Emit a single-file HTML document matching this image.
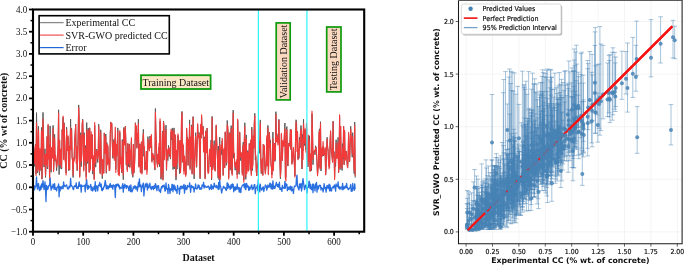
<!DOCTYPE html>
<html><head><meta charset="utf-8"><style>
html,body{margin:0;padding:0;background:#fff;width:685px;height:265px;overflow:hidden}
svg{display:block}
.ser{font-family:"Liberation Serif","Times New Roman",serif;fill:#111}
.dv{font-family:"DejaVu Sans","Liberation Sans",sans-serif;fill:#111}
.dvt{stroke:#111;stroke-width:0.2}
</style></head><body>
<svg width="685" height="265" viewBox="0 0 685 265"><path d="M33.5,148.7 L34.0,161.4 L34.5,166.4 L35.0,150.8 L35.5,144.2 L36.0,174.0 L36.5,112.6 L37.0,137.4 L37.5,172.8 L38.0,155.6 L38.5,126.2 L39.0,169.6 L39.5,175.2 L40.0,151.5 L40.5,158.3 L41.0,170.6 L41.5,127.5 L42.0,179.1 L42.5,137.3 L43.0,112.4 L43.5,135.9 L44.0,167.1 L44.5,156.0 L45.0,148.8 L45.5,177.4 L46.0,168.2 L46.5,162.5 L47.1,136.4 L47.6,169.0 L48.1,125.3 L48.6,157.9 L49.1,144.6 L49.6,179.0 L50.1,125.9 L50.6,149.8 L51.1,172.3 L51.6,147.7 L52.1,148.2 L52.6,157.6 L53.1,125.4 L53.6,170.0 L54.1,157.7 L54.6,134.3 L55.1,161.1 L55.6,157.5 L56.1,160.9 L56.6,170.6 L57.1,164.1 L57.6,157.5 L58.1,145.6 L58.6,109.8 L59.1,174.6 L59.6,139.9 L60.1,168.7 L60.6,150.7 L61.1,150.4 L61.6,169.1 L62.1,129.4 L62.6,133.7 L63.1,117.3 L63.6,154.1 L64.1,122.7 L64.6,138.0 L65.1,159.3 L65.6,162.5 L66.1,173.1 L66.6,127.2 L67.1,150.5 L67.6,147.5 L68.1,136.7 L68.6,170.6 L69.1,145.9 L69.6,170.1 L70.1,143.7 L70.6,119.2 L71.1,148.0 L71.6,128.4 L72.1,157.0 L72.6,160.6 L73.1,177.5 L73.6,160.3 L74.1,160.4 L74.7,140.0 L75.2,132.5 L75.7,124.1 L76.2,158.8 L76.7,147.6 L77.2,170.8 L77.7,157.1 L78.2,132.7 L78.7,104.9 L79.2,119.3 L79.7,176.4 L80.2,159.2 L80.7,132.7 L81.2,166.6 L81.7,152.9 L82.2,123.8 L82.7,119.2 L83.2,138.2 L83.7,169.9 L84.2,132.7 L84.7,152.2 L85.2,165.6 L85.7,145.5 L86.2,176.8 L86.7,122.6 L87.2,149.6 L87.7,163.5 L88.2,128.1 L88.7,137.1 L89.2,171.8 L89.7,127.8 L90.2,168.9 L90.7,154.3 L91.2,134.7 L91.7,157.9 L92.2,134.8 L92.7,174.1 L93.2,165.3 L93.7,156.4 L94.2,178.8 L94.7,125.2 L95.2,152.1 L95.7,167.2 L96.2,154.3 L96.7,149.1 L97.2,152.0 L97.7,162.5 L98.2,153.9 L98.7,124.2 L99.2,143.9 L99.7,163.0 L100.2,173.2 L100.7,129.8 L101.2,154.2 L101.7,162.4 L102.3,178.6 L102.8,160.6 L103.3,171.8 L103.8,172.7 L104.3,132.9 L104.8,147.8 L105.3,146.6 L105.8,134.0 L106.3,173.3 L106.8,142.4 L107.3,163.7 L107.8,146.7 L108.3,163.4 L108.8,158.0 L109.3,170.8 L109.8,167.4 L110.3,131.9 L110.8,122.2 L111.3,124.6 L111.8,123.6 L112.3,141.7 L112.8,158.3 L113.3,147.5 L113.8,139.5 L114.3,158.4 L114.8,147.5 L115.3,137.5 L115.8,169.6 L116.3,144.4 L116.8,152.9 L117.3,143.0 L117.8,127.9 L118.3,171.9 L118.8,164.6 L119.3,173.7 L119.8,132.3 L120.3,164.0 L120.8,157.4 L121.3,168.2 L121.8,172.8 L122.3,139.5 L122.8,149.9 L123.3,179.7 L123.8,127.5 L124.3,142.5 L124.8,141.8 L125.3,126.2 L125.8,139.4 L126.3,165.3 L126.8,151.9 L127.3,170.0 L127.8,143.7 L128.3,159.5 L128.8,167.0 L129.3,143.9 L129.9,166.7 L130.4,154.6 L130.9,155.6 L131.4,141.2 L131.9,173.9 L132.4,174.7 L132.9,177.3 L133.4,144.2 L133.9,173.2 L134.4,168.4 L134.9,154.3 L135.4,122.7 L135.9,140.1 L136.4,126.8 L136.9,147.7 L137.4,137.4 L137.9,140.4 L138.4,119.2 L138.9,166.5 L139.4,152.1 L139.9,143.7 L140.4,171.8 L140.9,156.5 L141.4,145.9 L141.9,173.3 L142.4,163.0 L142.9,137.4 L143.4,129.4 L143.9,156.3 L144.4,149.0 L144.9,169.8 L145.4,162.6 L145.9,167.8 L146.4,151.1 L146.9,170.2 L147.4,169.8 L147.9,136.6 L148.4,145.7 L148.9,145.8 L149.4,150.1 L149.9,136.0 L150.4,138.1 L150.9,148.1 L151.4,136.7 L151.9,161.3 L152.4,154.4 L152.9,153.5 L153.4,159.8 L153.9,156.5 L154.4,163.6 L154.9,170.1 L155.4,108.5 L155.9,130.7 L156.4,147.3 L156.9,162.6 L157.5,165.5 L158.0,154.1 L158.5,162.1 L159.0,147.0 L159.5,166.7 L160.0,121.4 L160.5,129.5 L161.0,179.3 L161.5,167.4 L162.0,172.9 L162.5,131.1 L163.0,179.6 L163.5,121.0 L164.0,125.7 L164.5,159.6 L165.0,144.9 L165.5,139.2 L166.0,125.2 L166.5,170.5 L167.0,151.1 L167.5,159.8 L168.0,160.5 L168.5,145.4 L169.0,150.9 L169.5,156.3 L170.0,153.8 L170.5,159.1 L171.0,132.1 L171.5,140.0 L172.0,128.4 L172.5,128.3 L173.0,169.5 L173.5,165.5 L174.0,127.9 L174.5,168.8 L175.0,164.8 L175.5,137.2 L176.0,180.1 L176.5,152.5 L177.0,169.2 L177.5,151.7 L178.0,135.4 L178.5,143.7 L179.0,150.3 L179.5,173.6 L180.0,140.5 L180.5,171.7 L181.0,159.9 L181.5,120.3 L182.0,111.4 L182.5,162.2 L183.0,145.1 L183.5,149.2 L184.0,171.2 L184.5,161.9 L185.1,163.0 L185.6,174.6 L186.1,174.9 L186.6,128.6 L187.1,146.1 L187.6,137.2 L188.1,164.9 L188.6,139.4 L189.1,149.8 L189.6,119.9 L190.1,168.6 L190.6,142.2 L191.1,158.6 L191.6,124.9 L192.1,173.6 L192.6,155.3 L193.1,116.6 L193.6,153.3 L194.1,178.9 L194.6,166.0 L195.1,149.5 L195.6,132.7 L196.1,145.3 L196.6,167.3 L197.1,148.1 L197.6,124.4 L198.1,135.4 L198.6,135.3 L199.1,132.5 L199.6,152.4 L200.1,178.8 L200.6,126.4 L201.1,138.2 L201.6,116.8 L202.1,129.5 L202.6,132.8 L203.1,126.2 L203.6,147.1 L204.1,150.0 L204.6,136.8 L205.1,178.4 L205.6,130.8 L206.1,139.9 L206.6,152.8 L207.1,128.1 L207.6,167.2 L208.1,172.1 L208.6,172.2 L209.1,157.8 L209.6,151.5 L210.1,151.6 L210.6,166.7 L211.1,140.0 L211.6,180.0 L212.1,116.4 L212.7,168.7 L213.2,165.7 L213.7,149.1 L214.2,140.6 L214.7,167.2 L215.2,170.7 L215.7,147.5 L216.2,125.5 L216.7,140.7 L217.2,150.7 L217.7,165.2 L218.2,178.3 L218.7,146.0 L219.2,180.1 L219.7,137.1 L220.2,177.7 L220.7,153.5 L221.2,148.1 L221.7,154.6 L222.2,140.8 L222.7,151.7 L223.2,175.2 L223.7,151.2 L224.2,149.3 L224.7,167.7 L225.2,132.3 L225.7,146.1 L226.2,165.4 L226.7,163.9 L227.2,120.5 L227.7,127.5 L228.2,133.8 L228.7,177.6 L229.2,156.4 L229.7,132.6 L230.2,170.2 L230.7,138.8 L231.2,125.6 L231.7,170.4 L232.2,174.2 L232.7,136.3 L233.2,110.1 L233.7,158.2 L234.2,153.3 L234.7,162.8 L235.2,170.2 L235.7,162.1 L236.2,169.7 L236.7,161.9 L237.2,174.9 L237.7,120.4 L238.2,152.2 L238.7,172.4 L239.2,174.3 L239.7,132.6 L240.3,160.6 L240.8,157.5 L241.3,153.1 L241.8,156.8 L242.3,173.4 L242.8,147.0 L243.3,142.1 L243.8,180.1 L244.3,141.4 L244.8,122.8 L245.3,167.7 L245.8,179.3 L246.3,134.9 L246.8,170.2 L247.3,161.4 L247.8,150.5 L248.3,170.2 L248.8,162.7 L249.3,143.5 L249.8,152.7 L250.3,170.3 L250.8,140.6 L251.3,173.9 L251.8,127.1 L252.3,170.6 L252.8,164.5 L253.3,137.4 L253.8,147.8 L254.3,122.0 L254.8,113.3 L255.3,159.8 L255.8,156.5 L256.3,171.4 L256.8,175.8 L257.3,163.7 L257.8,168.0 L258.3,151.9 L258.8,147.7 L259.3,141.3 L259.8,153.4 L260.3,119.9 L260.8,160.8 L261.3,173.7 L261.8,167.6 L262.3,160.0 L262.8,175.2 L263.3,144.3 L263.8,153.9 L264.3,146.7 L264.8,167.4 L265.3,171.7 L265.8,167.5 L266.3,158.4 L266.8,138.6 L267.3,166.3 L267.9,125.4 L268.4,174.1 L268.9,153.7 L269.4,132.3 L269.9,143.1 L270.4,140.2 L270.9,163.9 L271.4,167.7 L271.9,174.8 L272.4,167.7 L272.9,132.1 L273.4,169.9 L273.9,145.1 L274.4,143.2 L274.9,161.4 L275.4,157.7 L275.9,111.7 L276.4,136.9 L276.9,133.6 L277.4,137.4 L277.9,142.1 L278.4,140.0 L278.9,119.3 L279.4,143.0 L279.9,163.2 L280.4,178.8 L280.9,169.2 L281.4,134.4 L281.9,152.1 L282.4,158.6 L282.9,141.4 L283.4,145.1 L283.9,146.3 L284.4,135.0 L284.9,123.0 L285.4,177.7 L285.9,177.3 L286.4,129.3 L286.9,126.6 L287.4,160.1 L287.9,166.1 L288.4,150.1 L288.9,143.0 L289.4,146.0 L289.9,145.3 L290.4,129.2 L290.9,149.6 L291.4,133.5 L291.9,163.6 L292.4,161.9 L292.9,156.4 L293.4,153.8 L293.9,157.6 L294.4,164.2 L294.9,176.1 L295.5,141.2 L296.0,119.8 L296.5,121.3 L297.0,139.3 L297.5,131.5 L298.0,159.3 L298.5,152.0 L299.0,158.3 L299.5,137.3 L300.0,148.1 L300.5,130.7 L301.0,125.5 L301.5,135.1 L302.0,169.0 L302.5,134.4 L303.0,150.9 L303.5,119.3 L304.0,138.0 L304.5,145.5 L305.0,129.8 L305.5,139.8 L306.0,150.1 L306.5,123.2 L307.0,155.2 L307.5,160.9 L308.0,166.7 L308.5,135.0 L309.0,155.7 L309.5,135.8 L310.0,171.4 L310.5,168.1 L311.0,154.8 L311.5,170.6 L312.0,113.7 L312.5,129.2 L313.0,164.7 L313.5,151.6 L314.0,151.0 L314.5,150.3 L315.0,154.8 L315.5,145.8 L316.0,147.4 L316.5,149.4 L317.0,164.9 L317.5,174.7 L318.0,168.4 L318.5,164.1 L319.0,132.5 L319.5,128.8 L320.0,167.5 L320.5,121.7 L321.0,171.0 L321.5,152.7 L322.0,149.0 L322.5,156.3 L323.1,146.3 L323.6,155.9 L324.1,151.2 L324.6,151.6 L325.1,148.7 L325.6,175.0 L326.1,170.2 L326.6,148.3 L327.1,137.3 L327.6,146.3 L328.1,151.3 L328.6,162.5 L329.1,165.7 L329.6,167.6 L330.1,139.8 L330.6,132.9 L331.1,151.9 L331.6,153.0 L332.1,157.1 L332.6,162.1 L333.1,121.3 L333.6,157.8 L334.1,151.6 L334.6,177.2 L335.1,159.0 L335.6,166.4 L336.1,139.8 L336.6,156.2 L337.1,157.2 L337.6,150.5 L338.1,137.4 L338.6,172.7 L339.1,157.6 L339.6,116.8 L340.1,169.6 L340.6,126.2 L341.1,154.1 L341.6,162.8 L342.1,170.5 L342.6,143.7 L343.1,159.2 L343.6,126.0 L344.1,164.6 L344.6,131.7 L345.1,159.5 L345.6,156.9 L346.1,151.8 L346.6,151.0 L347.1,163.7 L347.6,168.0 L348.1,160.4 L348.6,134.7 L349.1,151.8 L349.6,161.9 L350.1,147.0 L350.7,126.3 L351.2,140.3 L351.7,143.6 L352.2,157.2 L352.7,132.7 L353.2,157.6 L353.7,157.6 L354.2,173.7 L354.7,122.1 L355.2,177.7" fill="none" stroke="#5a5a5a" stroke-width="1.0" stroke-linejoin="round"/>
<path d="M33.5,146.8 L34.0,162.9 L34.5,163.7 L35.0,150.1 L35.5,145.2 L36.0,175.5 L36.5,122.9 L37.0,138.2 L37.5,170.9 L38.0,158.9 L38.5,129.9 L39.0,168.7 L39.5,171.7 L40.0,148.6 L40.5,159.3 L41.0,168.5 L41.5,130.7 L42.0,178.7 L42.5,138.8 L43.0,119.1 L43.5,137.9 L44.0,164.8 L44.5,155.4 L45.0,154.3 L45.5,175.3 L46.0,154.0 L46.5,164.4 L47.1,137.0 L47.6,166.7 L48.1,124.2 L48.6,158.9 L49.1,146.8 L49.6,180.6 L50.1,135.1 L50.6,152.2 L51.1,169.4 L51.6,148.4 L52.1,147.3 L52.6,157.9 L53.1,128.4 L53.6,171.5 L54.1,155.6 L54.6,137.9 L55.1,159.9 L55.6,155.3 L56.1,160.3 L56.6,167.0 L57.1,163.7 L57.6,158.0 L58.1,145.7 L58.6,113.2 L59.1,165.0 L59.6,140.8 L60.1,165.2 L60.6,151.1 L61.1,149.0 L61.6,167.6 L62.1,130.6 L62.6,134.3 L63.1,116.0 L63.6,159.6 L64.1,123.8 L64.6,139.8 L65.1,159.9 L65.6,164.0 L66.1,174.9 L66.6,129.6 L67.1,150.7 L67.6,145.8 L68.1,135.8 L68.6,168.9 L69.1,146.9 L69.6,169.8 L70.1,144.3 L70.6,127.9 L71.1,149.6 L71.6,130.2 L72.1,157.5 L72.6,161.0 L73.1,175.3 L73.6,158.1 L74.1,161.2 L74.7,141.7 L75.2,133.2 L75.7,124.8 L76.2,163.2 L76.7,146.5 L77.2,169.6 L77.7,157.6 L78.2,131.5 L78.7,107.7 L79.2,124.7 L79.7,177.2 L80.2,160.4 L80.7,135.1 L81.2,161.6 L81.7,155.0 L82.2,125.1 L82.7,120.2 L83.2,139.3 L83.7,171.0 L84.2,134.6 L84.7,153.8 L85.2,161.0 L85.7,148.4 L86.2,180.5 L86.7,130.0 L87.2,149.3 L87.7,161.5 L88.2,130.0 L88.7,136.1 L89.2,172.4 L89.7,128.2 L90.2,170.2 L90.7,157.1 L91.2,131.7 L91.7,158.4 L92.2,134.5 L92.7,170.4 L93.2,163.6 L93.7,155.9 L94.2,179.7 L94.7,122.5 L95.2,157.7 L95.7,163.1 L96.2,155.6 L96.7,150.5 L97.2,152.1 L97.7,159.0 L98.2,155.1 L98.7,126.5 L99.2,145.9 L99.7,167.8 L100.2,173.8 L100.7,131.9 L101.2,157.5 L101.7,159.4 L102.3,175.2 L102.8,159.6 L103.3,169.7 L103.8,173.3 L104.3,133.4 L104.8,151.7 L105.3,153.3 L105.8,136.6 L106.3,171.7 L106.8,144.3 L107.3,165.0 L107.8,145.0 L108.3,161.9 L108.8,159.3 L109.3,170.5 L109.8,170.0 L110.3,135.5 L110.8,122.2 L111.3,126.4 L111.8,123.6 L112.3,143.6 L112.8,156.4 L113.3,149.8 L113.8,141.1 L114.3,160.3 L114.8,147.7 L115.3,127.2 L115.8,172.5 L116.3,144.6 L116.8,155.8 L117.3,144.5 L117.8,131.4 L118.3,174.7 L118.8,164.9 L119.3,175.6 L119.8,130.6 L120.3,163.9 L120.8,156.8 L121.3,167.3 L121.8,172.0 L122.3,141.1 L122.8,153.5 L123.3,174.8 L123.8,129.1 L124.3,141.7 L124.8,144.8 L125.3,126.8 L125.8,141.2 L126.3,164.1 L126.8,153.4 L127.3,171.4 L127.8,143.5 L128.3,159.4 L128.8,163.6 L129.3,145.1 L129.9,167.8 L130.4,150.2 L130.9,157.9 L131.4,137.8 L131.9,169.3 L132.4,171.0 L132.9,175.2 L133.4,144.8 L133.9,172.2 L134.4,167.6 L134.9,155.8 L135.4,123.5 L135.9,138.4 L136.4,125.8 L136.9,148.2 L137.4,133.6 L137.9,140.8 L138.4,123.9 L138.9,166.9 L139.4,160.5 L139.9,144.3 L140.4,172.7 L140.9,158.9 L141.4,141.7 L141.9,174.0 L142.4,163.2 L142.9,140.5 L143.4,133.6 L143.9,147.6 L144.4,146.5 L144.9,169.9 L145.4,165.8 L145.9,168.6 L146.4,151.8 L146.9,174.3 L147.4,167.1 L147.9,139.4 L148.4,145.1 L148.9,146.4 L149.4,150.6 L149.9,140.0 L150.4,137.1 L150.9,147.5 L151.4,134.5 L151.9,162.1 L152.4,153.6 L152.9,154.4 L153.4,157.5 L153.9,155.7 L154.4,165.3 L154.9,169.0 L155.4,112.1 L155.9,133.1 L156.4,147.0 L156.9,159.2 L157.5,167.0 L158.0,154.6 L158.5,163.8 L159.0,143.4 L159.5,162.9 L160.0,118.9 L160.5,124.2 L161.0,177.4 L161.5,168.0 L162.0,172.0 L162.5,132.7 L163.0,179.9 L163.5,122.2 L164.0,128.0 L164.5,159.7 L165.0,141.1 L165.5,136.4 L166.0,129.5 L166.5,169.0 L167.0,149.3 L167.5,158.4 L168.0,154.1 L168.5,148.2 L169.0,150.6 L169.5,154.3 L170.0,147.7 L170.5,157.8 L171.0,129.4 L171.5,137.1 L172.0,131.4 L172.5,131.1 L173.0,165.0 L173.5,166.7 L174.0,130.2 L174.5,166.6 L175.0,165.8 L175.5,134.9 L176.0,176.5 L176.5,150.2 L177.0,163.1 L177.5,153.7 L178.0,133.8 L178.5,142.0 L179.0,148.7 L179.5,166.8 L180.0,140.6 L180.5,172.6 L181.0,158.3 L181.5,119.5 L182.0,112.7 L182.5,161.9 L183.0,143.7 L183.5,150.1 L184.0,174.1 L184.5,156.0 L185.1,162.7 L185.6,176.3 L186.1,172.6 L186.6,128.3 L187.1,144.3 L187.6,138.9 L188.1,165.5 L188.6,139.9 L189.1,150.2 L189.6,124.3 L190.1,169.7 L190.6,137.1 L191.1,158.4 L191.6,126.6 L192.1,174.1 L192.6,154.8 L193.1,117.3 L193.6,152.5 L194.1,174.2 L194.6,165.4 L195.1,148.6 L195.6,136.2 L196.1,143.8 L196.6,165.8 L197.1,146.5 L197.6,123.8 L198.1,137.7 L198.6,135.3 L199.1,134.5 L199.6,150.4 L200.1,177.8 L200.6,124.5 L201.1,138.0 L201.6,114.9 L202.1,131.9 L202.6,134.2 L203.1,127.2 L203.6,152.0 L204.1,149.1 L204.6,138.7 L205.1,178.7 L205.6,131.8 L206.1,140.1 L206.6,152.7 L207.1,128.5 L207.6,167.4 L208.1,173.4 L208.6,173.0 L209.1,156.9 L209.6,149.0 L210.1,151.7 L210.6,165.8 L211.1,143.0 L211.6,177.9 L212.1,117.9 L212.7,169.5 L213.2,164.2 L213.7,149.1 L214.2,144.7 L214.7,169.5 L215.2,171.1 L215.7,148.4 L216.2,125.0 L216.7,142.5 L217.2,151.0 L217.7,165.1 L218.2,176.1 L218.7,150.8 L219.2,178.5 L219.7,144.2 L220.2,179.4 L220.7,154.3 L221.2,145.1 L221.7,148.9 L222.2,138.4 L222.7,150.3 L223.2,175.3 L223.7,152.1 L224.2,148.3 L224.7,167.6 L225.2,131.9 L225.7,143.7 L226.2,162.2 L226.7,162.7 L227.2,125.0 L227.7,126.2 L228.2,137.3 L228.7,179.1 L229.2,155.9 L229.7,133.6 L230.2,168.1 L230.7,139.5 L231.2,128.4 L231.7,169.6 L232.2,175.2 L232.7,139.6 L233.2,113.0 L233.7,153.7 L234.2,153.2 L234.7,163.0 L235.2,167.2 L235.7,162.5 L236.2,168.4 L236.7,159.8 L237.2,178.2 L237.7,119.1 L238.2,150.5 L238.7,172.0 L239.2,169.4 L239.7,132.0 L240.3,157.3 L240.8,152.2 L241.3,152.9 L241.8,157.3 L242.3,175.1 L242.8,148.9 L243.3,145.1 L243.8,182.1 L244.3,141.1 L244.8,126.6 L245.3,166.1 L245.8,176.8 L246.3,138.9 L246.8,173.4 L247.3,161.4 L247.8,152.2 L248.3,171.2 L248.8,159.6 L249.3,143.8 L249.8,150.4 L250.3,169.8 L250.8,139.9 L251.3,175.6 L251.8,129.5 L252.3,168.1 L252.8,163.9 L253.3,135.8 L253.8,148.2 L254.3,124.7 L254.8,115.9 L255.3,153.4 L255.8,155.7 L256.3,170.6 L256.8,175.4 L257.3,165.5 L257.8,164.7 L258.3,159.8 L258.8,146.7 L259.3,142.3 L259.8,148.7 L260.3,123.0 L260.8,159.3 L261.3,172.3 L261.8,164.6 L262.3,158.5 L262.8,175.3 L263.3,144.6 L263.8,149.7 L264.3,145.3 L264.8,166.7 L265.3,173.9 L265.8,168.9 L266.3,159.7 L266.8,135.8 L267.3,165.5 L267.9,127.8 L268.4,174.6 L268.9,153.6 L269.4,132.9 L269.9,147.2 L270.4,143.8 L270.9,163.2 L271.4,166.2 L271.9,177.8 L272.4,165.9 L272.9,138.5 L273.4,170.6 L273.9,143.7 L274.4,144.3 L274.9,160.4 L275.4,158.5 L275.9,114.5 L276.4,141.7 L276.9,135.8 L277.4,138.2 L277.9,144.9 L278.4,140.2 L278.9,120.3 L279.4,148.0 L279.9,161.1 L280.4,176.6 L280.9,168.5 L281.4,133.3 L281.9,148.0 L282.4,160.5 L282.9,140.5 L283.4,144.5 L283.9,146.0 L284.4,133.9 L284.9,128.8 L285.4,176.9 L285.9,180.9 L286.4,132.0 L286.9,129.5 L287.4,156.8 L287.9,165.4 L288.4,147.9 L288.9,143.3 L289.4,146.0 L289.9,142.8 L290.4,130.3 L290.9,148.6 L291.4,129.9 L291.9,164.3 L292.4,158.7 L292.9,153.9 L293.4,147.6 L293.9,156.0 L294.4,165.3 L294.9,177.0 L295.5,142.3 L296.0,121.9 L296.5,130.7 L297.0,151.4 L297.5,131.9 L298.0,159.7 L298.5,150.2 L299.0,155.6 L299.5,140.7 L300.0,147.6 L300.5,133.0 L301.0,129.1 L301.5,131.4 L302.0,168.1 L302.5,139.2 L303.0,159.5 L303.5,123.9 L304.0,139.0 L304.5,143.1 L305.0,128.8 L305.5,141.9 L306.0,152.2 L306.5,123.3 L307.0,149.6 L307.5,161.1 L308.0,166.4 L308.5,135.2 L309.0,161.7 L309.5,141.1 L310.0,170.3 L310.5,171.0 L311.0,153.7 L311.5,168.1 L312.0,111.2 L312.5,132.4 L313.0,159.3 L313.5,154.6 L314.0,151.8 L314.5,150.9 L315.0,151.1 L315.5,149.2 L316.0,147.0 L316.5,154.3 L317.0,160.0 L317.5,175.6 L318.0,169.7 L318.5,162.4 L319.0,133.7 L319.5,130.8 L320.0,168.8 L320.5,123.5 L321.0,168.3 L321.5,152.3 L322.0,148.1 L322.5,155.3 L323.1,141.6 L323.6,154.1 L324.1,154.8 L324.6,152.3 L325.1,147.3 L325.6,174.7 L326.1,165.3 L326.6,148.1 L327.1,139.2 L327.6,147.5 L328.1,149.9 L328.6,163.9 L329.1,168.9 L329.6,164.0 L330.1,142.0 L330.6,130.8 L331.1,148.1 L331.6,149.6 L332.1,157.0 L332.6,162.1 L333.1,121.7 L333.6,157.0 L334.1,153.3 L334.6,179.4 L335.1,158.3 L335.6,162.5 L336.1,143.1 L336.6,157.3 L337.1,158.4 L337.6,151.1 L338.1,142.9 L338.6,171.9 L339.1,158.5 L339.6,114.9 L340.1,167.7 L340.6,126.3 L341.1,154.1 L341.6,163.1 L342.1,168.2 L342.6,147.7 L343.1,156.8 L343.6,126.5 L344.1,164.5 L344.6,130.3 L345.1,160.4 L345.6,158.0 L346.1,151.3 L346.6,155.0 L347.1,163.4 L347.6,167.8 L348.1,158.2 L348.6,132.4 L349.1,150.6 L349.6,160.9 L350.1,146.4 L350.7,129.2 L351.2,136.2 L351.7,141.9 L352.2,153.4 L352.7,136.5 L353.2,156.3 L353.7,156.4 L354.2,170.5 L354.7,125.5 L355.2,175.7" fill="none" stroke="#f23a3a" stroke-width="1.15" stroke-linejoin="round"/>
<path d="M33.5,189.2 L34.0,185.7 L34.5,189.9 L35.0,187.9 L35.5,186.2 L36.0,185.7 L36.5,176.9 L37.0,186.5 L37.5,189.2 L38.0,184.0 L38.5,183.6 L39.0,188.1 L39.5,190.7 L40.0,190.1 L40.5,186.2 L41.0,189.4 L41.5,184.0 L42.0,187.7 L42.5,185.7 L43.0,180.6 L43.5,185.2 L44.0,189.5 L44.5,187.9 L45.0,181.8 L45.5,189.4 L46.0,201.5 L46.5,185.4 L47.1,186.6 L47.6,189.5 L48.1,188.4 L48.6,186.3 L49.1,185.1 L49.6,185.6 L50.1,178.1 L50.6,184.9 L51.1,190.1 L51.6,186.5 L52.1,188.2 L52.6,187.0 L53.1,184.2 L53.6,185.8 L54.1,189.3 L54.6,183.6 L55.1,188.5 L55.6,189.4 L56.1,187.8 L56.6,190.9 L57.1,187.6 L57.6,186.7 L58.1,187.1 L58.6,183.9 L59.1,196.8 L59.6,186.4 L60.1,190.8 L60.6,186.9 L61.1,188.7 L61.6,188.8 L62.1,186.1 L62.6,186.7 L63.1,188.6 L63.6,181.8 L64.1,186.2 L64.6,185.4 L65.1,186.7 L65.6,185.8 L66.1,185.5 L66.6,184.8 L67.1,187.0 L67.6,188.9 L68.1,188.2 L68.6,188.9 L69.1,186.2 L69.6,187.5 L70.1,186.6 L70.6,178.5 L71.1,185.6 L71.6,185.5 L72.1,186.7 L72.6,186.9 L73.1,189.4 L73.6,189.5 L74.1,186.5 L74.7,185.6 L75.2,186.5 L75.7,186.5 L76.2,182.8 L76.7,188.4 L77.2,188.4 L77.7,186.8 L78.2,188.4 L78.7,184.5 L79.2,181.8 L79.7,186.4 L80.2,186.2 L80.7,184.9 L81.2,192.2 L81.7,185.2 L82.2,186.0 L82.7,186.3 L83.2,186.2 L83.7,186.1 L84.2,185.4 L84.7,185.7 L85.2,191.8 L85.7,184.3 L86.2,183.6 L86.7,179.9 L87.2,187.6 L87.7,189.3 L88.2,185.3 L88.7,188.3 L89.2,186.6 L89.7,186.9 L90.2,186.0 L90.7,184.4 L91.2,190.3 L91.7,186.8 L92.2,187.6 L92.7,191.0 L93.2,189.0 L93.7,187.7 L94.2,186.3 L94.7,189.9 L95.2,181.7 L95.7,191.4 L96.2,186.0 L96.7,185.8 L97.2,187.1 L97.7,190.8 L98.2,186.1 L98.7,184.9 L99.2,185.2 L99.7,182.5 L100.2,186.7 L100.7,185.1 L101.2,184.0 L101.7,190.3 L102.3,190.7 L102.8,188.2 L103.3,189.4 L103.8,186.7 L104.3,186.7 L104.8,183.4 L105.3,180.5 L105.8,184.6 L106.3,188.9 L106.8,185.3 L107.3,186.0 L107.8,188.9 L108.3,188.8 L108.8,185.9 L109.3,187.6 L109.8,184.7 L110.3,183.6 L110.8,187.2 L111.3,185.4 L111.8,187.3 L112.3,185.4 L112.8,189.1 L113.3,185.0 L113.8,185.6 L114.3,185.4 L114.8,187.1 L115.3,197.5 L115.8,184.4 L116.3,187.0 L116.8,184.3 L117.3,185.7 L117.8,183.8 L118.3,184.4 L118.8,187.0 L119.3,185.3 L119.8,189.0 L120.3,187.3 L120.8,187.8 L121.3,188.1 L121.8,188.1 L122.3,185.7 L122.8,183.6 L123.3,192.1 L123.8,185.7 L124.3,188.0 L124.8,184.2 L125.3,186.6 L125.8,185.5 L126.3,188.5 L126.8,185.7 L127.3,185.9 L127.8,187.4 L128.3,187.3 L128.8,190.6 L129.3,186.0 L129.9,186.1 L130.4,191.7 L130.9,185.0 L131.4,190.7 L131.9,191.9 L132.4,191.0 L132.9,189.3 L133.4,186.6 L133.9,188.3 L134.4,188.0 L134.9,185.7 L135.4,186.5 L135.9,189.0 L136.4,188.3 L136.9,186.7 L137.4,191.0 L137.9,186.8 L138.4,182.5 L138.9,186.8 L139.4,178.9 L139.9,186.6 L140.4,186.3 L140.9,184.9 L141.4,191.5 L141.9,186.6 L142.4,187.1 L142.9,184.1 L143.4,183.1 L143.9,195.9 L144.4,189.8 L144.9,187.2 L145.4,184.0 L145.9,186.5 L146.4,186.5 L146.9,183.2 L147.4,190.0 L147.9,184.5 L148.4,187.9 L148.9,186.6 L149.4,186.8 L149.9,183.2 L150.4,188.2 L150.9,187.9 L151.4,189.5 L151.9,186.5 L152.4,188.1 L152.9,186.3 L153.4,189.6 L153.9,188.0 L154.4,185.6 L154.9,188.3 L155.4,183.6 L155.9,184.9 L156.4,187.5 L156.9,190.7 L157.5,185.8 L158.0,186.8 L158.5,185.6 L159.0,190.8 L159.5,191.1 L160.0,189.8 L160.5,192.5 L161.0,189.2 L161.5,186.7 L162.0,188.2 L162.5,185.7 L163.0,186.9 L163.5,186.1 L164.0,184.9 L164.5,187.2 L165.0,191.1 L165.5,190.1 L166.0,183.0 L166.5,188.8 L167.0,189.1 L167.5,188.7 L168.0,193.7 L168.5,184.5 L169.0,187.5 L169.5,189.3 L170.0,193.4 L170.5,188.6 L171.0,190.0 L171.5,190.1 L172.0,184.3 L172.5,184.5 L173.0,191.8 L173.5,186.0 L174.0,184.9 L174.5,189.5 L175.0,186.2 L175.5,189.6 L176.0,190.9 L176.5,189.6 L177.0,193.4 L177.5,185.3 L178.0,188.9 L178.5,188.9 L179.0,188.9 L179.5,194.1 L180.0,187.2 L180.5,186.3 L181.0,188.9 L181.5,188.0 L182.0,186.0 L182.5,187.5 L183.0,188.6 L183.5,186.4 L184.0,184.4 L184.5,193.2 L185.1,187.5 L185.6,185.5 L186.1,189.5 L186.6,187.6 L187.1,189.0 L187.6,185.5 L188.1,186.7 L188.6,186.7 L189.1,186.9 L189.6,182.9 L190.1,186.2 L190.6,192.3 L191.1,187.4 L191.6,185.5 L192.1,186.7 L192.6,187.7 L193.1,186.6 L193.6,188.1 L194.1,192.0 L194.6,187.9 L195.1,188.2 L195.6,183.8 L196.1,188.8 L196.6,188.7 L197.1,188.9 L197.6,187.9 L198.1,184.9 L198.6,187.2 L199.1,185.3 L199.6,189.2 L200.1,188.3 L200.6,189.2 L201.1,187.4 L201.6,189.1 L202.1,184.8 L202.6,185.8 L203.1,186.2 L203.6,182.4 L204.1,188.1 L204.6,185.3 L205.1,186.9 L205.6,186.2 L206.1,187.1 L206.6,187.3 L207.1,186.8 L207.6,187.1 L208.1,185.9 L208.6,186.4 L209.1,188.2 L209.6,189.7 L210.1,187.2 L210.6,188.1 L211.1,184.3 L211.6,189.3 L212.1,185.8 L212.7,186.5 L213.2,188.8 L213.7,187.3 L214.2,183.2 L214.7,184.9 L215.2,186.8 L215.7,186.4 L216.2,187.8 L216.7,185.5 L217.2,187.0 L217.7,187.4 L218.2,189.5 L218.7,182.4 L219.2,188.9 L219.7,180.1 L220.2,185.6 L220.7,186.5 L221.2,190.3 L221.7,193.0 L222.2,189.8 L222.7,188.7 L223.2,187.2 L223.7,186.3 L224.2,188.2 L224.7,187.4 L225.2,187.7 L225.7,189.7 L226.2,190.5 L226.7,188.4 L227.2,182.7 L227.7,188.6 L228.2,183.8 L228.7,185.8 L229.2,187.7 L229.7,186.3 L230.2,189.3 L230.7,186.5 L231.2,184.5 L231.7,188.1 L232.2,186.3 L232.7,184.0 L233.2,184.4 L233.7,191.8 L234.2,187.3 L234.7,187.0 L235.2,190.3 L235.7,186.9 L236.2,188.5 L236.7,189.4 L237.2,184.0 L237.7,188.5 L238.2,188.9 L238.7,187.6 L239.2,192.1 L239.7,187.8 L240.3,190.6 L240.8,192.6 L241.3,187.5 L241.8,186.8 L242.3,185.6 L242.8,185.3 L243.3,184.3 L243.8,185.3 L244.3,187.6 L244.8,183.5 L245.3,188.9 L245.8,189.8 L246.3,183.3 L246.8,184.0 L247.3,187.2 L247.8,185.6 L248.3,186.3 L248.8,190.4 L249.3,186.9 L249.8,189.6 L250.3,187.8 L250.8,187.9 L251.3,185.5 L251.8,184.9 L252.3,189.7 L252.8,187.8 L253.3,188.9 L253.8,186.9 L254.3,184.6 L254.8,184.7 L255.3,193.6 L255.8,188.1 L256.3,188.0 L256.8,187.7 L257.3,185.4 L257.8,190.5 L258.3,179.3 L258.8,188.2 L259.3,186.2 L259.8,191.9 L260.3,184.2 L260.8,188.8 L261.3,188.6 L261.8,190.3 L262.3,188.8 L262.8,187.2 L263.3,186.9 L263.8,191.5 L264.3,188.6 L264.8,187.9 L265.3,185.0 L265.8,185.9 L266.3,185.9 L266.8,190.1 L267.3,188.1 L267.9,184.9 L268.4,186.7 L268.9,187.4 L269.4,186.7 L269.9,183.2 L270.4,183.6 L270.9,188.0 L271.4,188.8 L271.9,184.2 L272.4,189.1 L272.9,180.8 L273.4,186.6 L273.9,188.7 L274.4,186.1 L274.9,188.3 L275.4,186.4 L275.9,184.5 L276.4,182.5 L276.9,185.1 L277.4,186.5 L277.9,184.4 L278.4,187.1 L278.9,186.3 L279.4,182.2 L279.9,189.4 L280.4,189.5 L280.9,187.9 L281.4,188.4 L281.9,191.4 L282.4,185.4 L282.9,188.2 L283.4,187.9 L283.9,187.6 L284.4,188.3 L284.9,181.4 L285.4,188.1 L285.9,183.6 L286.4,184.6 L286.9,184.4 L287.4,190.6 L287.9,187.9 L288.4,189.4 L288.9,186.9 L289.4,187.3 L289.9,189.7 L290.4,186.2 L290.9,188.2 L291.4,190.9 L291.9,186.6 L292.4,190.4 L292.9,189.8 L293.4,193.4 L293.9,188.9 L294.4,186.2 L294.9,186.4 L295.5,186.1 L296.0,185.2 L296.5,177.9 L297.0,175.1 L297.5,186.9 L298.0,186.8 L298.5,189.0 L299.0,190.0 L299.5,183.9 L300.0,187.8 L300.5,184.9 L301.0,183.6 L301.5,191.0 L302.0,188.2 L302.5,182.4 L303.0,178.6 L303.5,182.6 L304.0,186.3 L304.5,189.7 L305.0,188.3 L305.5,185.1 L306.0,185.2 L306.5,187.2 L307.0,192.8 L307.5,187.1 L308.0,187.6 L308.5,187.0 L309.0,181.2 L309.5,182.0 L310.0,188.4 L310.5,184.3 L311.0,188.4 L311.5,189.7 L312.0,189.7 L312.5,184.1 L313.0,192.7 L313.5,184.2 L314.0,186.5 L314.5,186.7 L315.0,190.9 L315.5,183.9 L316.0,187.7 L316.5,182.4 L317.0,192.2 L317.5,186.5 L318.0,186.0 L318.5,189.0 L319.0,186.0 L319.5,185.2 L320.0,186.0 L320.5,185.4 L321.0,190.0 L321.5,187.7 L322.0,188.2 L322.5,188.3 L323.1,192.0 L323.6,189.0 L324.1,183.7 L324.6,186.6 L325.1,188.6 L325.6,187.6 L326.1,192.1 L326.6,187.5 L327.1,185.4 L327.6,186.0 L328.1,188.7 L328.6,185.9 L329.1,184.1 L329.6,190.9 L330.1,185.1 L330.6,189.3 L331.1,191.1 L331.6,190.7 L332.1,187.3 L332.6,187.3 L333.1,186.8 L333.6,188.0 L334.1,185.5 L334.6,185.0 L335.1,187.9 L335.6,191.2 L336.1,184.0 L336.6,186.2 L337.1,186.1 L337.6,186.7 L338.1,181.8 L338.6,188.0 L339.1,186.4 L339.6,189.1 L340.1,189.2 L340.6,187.2 L341.1,187.3 L341.6,187.0 L342.1,189.6 L342.6,183.3 L343.1,189.6 L343.6,186.8 L344.1,187.3 L344.6,188.6 L345.1,186.4 L345.6,186.1 L346.1,187.7 L346.6,183.3 L347.1,187.6 L347.6,187.4 L348.1,189.5 L348.6,189.6 L349.1,188.4 L349.6,188.3 L350.1,187.8 L350.7,184.3 L351.2,191.3 L351.7,189.0 L352.2,191.1 L352.7,183.5 L353.2,188.6 L353.7,188.5 L354.2,190.4 L354.7,183.9 L355.2,189.3" fill="none" stroke="#2a6fe0" stroke-width="1.3" stroke-linejoin="round"/>
<line x1="258.4" y1="9.5" x2="258.4" y2="231.7" stroke="#2ef4fa" stroke-width="1.2"/>
<line x1="306.9" y1="9.5" x2="306.9" y2="231.7" stroke="#2ef4fa" stroke-width="1.2"/>
<rect x="33.0" y="9.5" width="331.2" height="222.2" fill="none" stroke="#000" stroke-width="2.1"/>
<line x1="29.0" y1="231.7" x2="33.0" y2="231.7" stroke="#000" stroke-width="1.8"/>
<text transform="translate(27.3,234.7) scale(0.94,1)" text-anchor="end" class="ser" font-size="9.6">−1.0</text>
<line x1="29.0" y1="209.5" x2="33.0" y2="209.5" stroke="#000" stroke-width="1.8"/>
<text transform="translate(27.3,212.5) scale(0.94,1)" text-anchor="end" class="ser" font-size="9.6">−0.5</text>
<line x1="29.0" y1="187.3" x2="33.0" y2="187.3" stroke="#000" stroke-width="1.8"/>
<text transform="translate(27.3,190.3) scale(0.94,1)" text-anchor="end" class="ser" font-size="9.6">0.0</text>
<line x1="29.0" y1="165.0" x2="33.0" y2="165.0" stroke="#000" stroke-width="1.8"/>
<text transform="translate(27.3,168.0) scale(0.94,1)" text-anchor="end" class="ser" font-size="9.6">0.5</text>
<line x1="29.0" y1="142.8" x2="33.0" y2="142.8" stroke="#000" stroke-width="1.8"/>
<text transform="translate(27.3,145.8) scale(0.94,1)" text-anchor="end" class="ser" font-size="9.6">1.0</text>
<line x1="29.0" y1="120.6" x2="33.0" y2="120.6" stroke="#000" stroke-width="1.8"/>
<text transform="translate(27.3,123.6) scale(0.94,1)" text-anchor="end" class="ser" font-size="9.6">1.5</text>
<line x1="29.0" y1="98.4" x2="33.0" y2="98.4" stroke="#000" stroke-width="1.8"/>
<text transform="translate(27.3,101.4) scale(0.94,1)" text-anchor="end" class="ser" font-size="9.6">2.0</text>
<line x1="29.0" y1="76.2" x2="33.0" y2="76.2" stroke="#000" stroke-width="1.8"/>
<text transform="translate(27.3,79.2) scale(0.94,1)" text-anchor="end" class="ser" font-size="9.6">2.5</text>
<line x1="29.0" y1="53.9" x2="33.0" y2="53.9" stroke="#000" stroke-width="1.8"/>
<text transform="translate(27.3,56.9) scale(0.94,1)" text-anchor="end" class="ser" font-size="9.6">3.0</text>
<line x1="29.0" y1="31.7" x2="33.0" y2="31.7" stroke="#000" stroke-width="1.8"/>
<text transform="translate(27.3,34.7) scale(0.94,1)" text-anchor="end" class="ser" font-size="9.6">3.5</text>
<line x1="29.0" y1="9.5" x2="33.0" y2="9.5" stroke="#000" stroke-width="1.8"/>
<text transform="translate(27.3,12.5) scale(0.94,1)" text-anchor="end" class="ser" font-size="9.6">4.0</text>
<line x1="30.5" y1="220.6" x2="33.0" y2="220.6" stroke="#000" stroke-width="1.5"/>
<line x1="30.5" y1="198.4" x2="33.0" y2="198.4" stroke="#000" stroke-width="1.5"/>
<line x1="30.5" y1="176.2" x2="33.0" y2="176.2" stroke="#000" stroke-width="1.5"/>
<line x1="30.5" y1="153.9" x2="33.0" y2="153.9" stroke="#000" stroke-width="1.5"/>
<line x1="30.5" y1="131.7" x2="33.0" y2="131.7" stroke="#000" stroke-width="1.5"/>
<line x1="30.5" y1="109.5" x2="33.0" y2="109.5" stroke="#000" stroke-width="1.5"/>
<line x1="30.5" y1="87.3" x2="33.0" y2="87.3" stroke="#000" stroke-width="1.5"/>
<line x1="30.5" y1="65.0" x2="33.0" y2="65.0" stroke="#000" stroke-width="1.5"/>
<line x1="30.5" y1="42.8" x2="33.0" y2="42.8" stroke="#000" stroke-width="1.5"/>
<line x1="30.5" y1="20.6" x2="33.0" y2="20.6" stroke="#000" stroke-width="1.5"/>
<line x1="33.0" y1="231.7" x2="33.0" y2="235.7" stroke="#000" stroke-width="1.8"/>
<text transform="translate(33.0,244.9) scale(0.94,1)" text-anchor="middle" class="ser" font-size="9.6">0</text>
<line x1="83.2" y1="231.7" x2="83.2" y2="235.7" stroke="#000" stroke-width="1.8"/>
<text transform="translate(83.2,244.9) scale(0.94,1)" text-anchor="middle" class="ser" font-size="9.6">100</text>
<line x1="133.4" y1="231.7" x2="133.4" y2="235.7" stroke="#000" stroke-width="1.8"/>
<text transform="translate(133.4,244.9) scale(0.94,1)" text-anchor="middle" class="ser" font-size="9.6">200</text>
<line x1="183.5" y1="231.7" x2="183.5" y2="235.7" stroke="#000" stroke-width="1.8"/>
<text transform="translate(183.5,244.9) scale(0.94,1)" text-anchor="middle" class="ser" font-size="9.6">300</text>
<line x1="233.7" y1="231.7" x2="233.7" y2="235.7" stroke="#000" stroke-width="1.8"/>
<text transform="translate(233.7,244.9) scale(0.94,1)" text-anchor="middle" class="ser" font-size="9.6">400</text>
<line x1="283.9" y1="231.7" x2="283.9" y2="235.7" stroke="#000" stroke-width="1.8"/>
<text transform="translate(283.9,244.9) scale(0.94,1)" text-anchor="middle" class="ser" font-size="9.6">500</text>
<line x1="334.1" y1="231.7" x2="334.1" y2="235.7" stroke="#000" stroke-width="1.8"/>
<text transform="translate(334.1,244.9) scale(0.94,1)" text-anchor="middle" class="ser" font-size="9.6">600</text>
<line x1="58.1" y1="231.7" x2="58.1" y2="234.2" stroke="#000" stroke-width="1.5"/>
<line x1="108.3" y1="231.7" x2="108.3" y2="234.2" stroke="#000" stroke-width="1.5"/>
<line x1="158.5" y1="231.7" x2="158.5" y2="234.2" stroke="#000" stroke-width="1.5"/>
<line x1="208.6" y1="231.7" x2="208.6" y2="234.2" stroke="#000" stroke-width="1.5"/>
<line x1="258.8" y1="231.7" x2="258.8" y2="234.2" stroke="#000" stroke-width="1.5"/>
<line x1="309.0" y1="231.7" x2="309.0" y2="234.2" stroke="#000" stroke-width="1.5"/>
<line x1="359.2" y1="231.7" x2="359.2" y2="234.2" stroke="#000" stroke-width="1.5"/>
<text x="198.6" y="260.7" text-anchor="middle" class="ser" font-weight="bold" font-size="10">Dataset</text>
<text transform="translate(6.8,120.8) rotate(-90)" text-anchor="middle" class="ser" font-weight="bold" font-size="10">CC (% wt of concrete)</text>
<rect x="39.1" y="15.7" width="130.2" height="38.2" fill="#fff" stroke="#000" stroke-width="1.6"/>
<line x1="40.1" y1="22.6" x2="63.6" y2="22.6" stroke="#8a8a8a" stroke-width="1.3"/>
<text x="65.5" y="26.0" class="ser" font-size="10">Experimental CC</text>
<line x1="40.1" y1="35.1" x2="63.6" y2="35.1" stroke="#f05050" stroke-width="1.2"/>
<text x="65.5" y="38.5" class="ser" font-size="10">SVR-GWO predicted CC</text>
<line x1="40.1" y1="47.6" x2="63.6" y2="47.6" stroke="#1f68dc" stroke-width="1.2"/>
<text x="65.5" y="51.0" class="ser" font-size="10">Error</text>
<rect x="141" y="75.2" width="69.6" height="13.8" fill="#fbe9c6" stroke="#0e9a0e" stroke-width="1.8"/>
<text x="175.8" y="85.6" text-anchor="middle" class="ser" font-size="10">Training Dataset</text>
<rect x="276.2" y="22.9" width="14" height="77" fill="#fbd9c0" stroke="#0e9a0e" stroke-width="1.7"/>
<text transform="translate(286.6,61.4) rotate(-90)" text-anchor="middle" class="ser" font-size="10">Validation Dataset</text>
<rect x="326.7" y="27" width="14.3" height="64.9" fill="#fbd9c0" stroke="#0e9a0e" stroke-width="1.7"/>
<text transform="translate(337.3,59.4) rotate(-90)" text-anchor="middle" class="ser" font-size="10">Testing Dataset</text>
<line x1="466.1" y1="0" x2="466.1" y2="243.8" stroke="#ececec" stroke-width="0.6"/>
<line x1="492.5" y1="0" x2="492.5" y2="243.8" stroke="#ececec" stroke-width="0.6"/>
<line x1="518.9" y1="0" x2="518.9" y2="243.8" stroke="#ececec" stroke-width="0.6"/>
<line x1="545.3" y1="0" x2="545.3" y2="243.8" stroke="#ececec" stroke-width="0.6"/>
<line x1="571.7" y1="0" x2="571.7" y2="243.8" stroke="#ececec" stroke-width="0.6"/>
<line x1="598.1" y1="0" x2="598.1" y2="243.8" stroke="#ececec" stroke-width="0.6"/>
<line x1="624.5" y1="0" x2="624.5" y2="243.8" stroke="#ececec" stroke-width="0.6"/>
<line x1="650.9" y1="0" x2="650.9" y2="243.8" stroke="#ececec" stroke-width="0.6"/>
<line x1="677.3" y1="0" x2="677.3" y2="243.8" stroke="#ececec" stroke-width="0.6"/>
<line x1="458.5" y1="231.9" x2="682.1" y2="231.9" stroke="#ececec" stroke-width="0.6"/>
<line x1="458.5" y1="179.3" x2="682.1" y2="179.3" stroke="#ececec" stroke-width="0.6"/>
<line x1="458.5" y1="126.7" x2="682.1" y2="126.7" stroke="#ececec" stroke-width="0.6"/>
<line x1="458.5" y1="74.1" x2="682.1" y2="74.1" stroke="#ececec" stroke-width="0.6"/>
<line x1="458.5" y1="21.5" x2="682.1" y2="21.5" stroke="#ececec" stroke-width="0.6"/>
<g stroke="#4682b4" stroke-width="1" stroke-opacity="0.47" fill="none"><path d="M481.7,227.4V163.9M479.4,227.4h4.6M479.4,163.9h4.6"/><path d="M497.6,212.3V179.5M495.3,212.3h4.6M495.3,179.5h4.6"/><path d="M559.9,160.1V104.9M557.6,160.1h4.6M557.6,104.9h4.6"/><path d="M533.4,172.7V132.1M531.1,172.7h4.6M531.1,132.1h4.6"/><path d="M482.7,227.6V199.0M480.4,227.6h4.6M480.4,199.0h4.6"/><path d="M517.7,201.9V86.4M515.4,201.9h4.6M515.4,86.4h4.6"/><path d="M522.4,195.0V71.2M520.1,195.0h4.6M520.1,71.2h4.6"/><path d="M489.8,219.8V185.8M487.5,219.8h4.6M487.5,185.8h4.6"/><path d="M550.9,175.4V70.1M548.6,175.4h4.6M548.6,70.1h4.6"/><path d="M485.0,227.1V209.2M482.7,227.1h4.6M482.7,209.2h4.6"/><path d="M513.4,204.0V91.2M511.1,204.0h4.6M511.1,91.2h4.6"/><path d="M526.4,168.1V126.4M524.1,168.1h4.6M524.1,126.4h4.6"/><path d="M517.4,211.0V157.1M515.1,211.0h4.6M515.1,157.1h4.6"/><path d="M533.9,175.2V131.1M531.6,175.2h4.6M531.6,131.1h4.6"/><path d="M551.3,164.3V77.7M549.0,164.3h4.6M549.0,77.7h4.6"/><path d="M607.5,116.6V63.0M605.2,116.6h4.6M605.2,63.0h4.6"/><path d="M502.5,227.7V187.1M500.2,227.7h4.6M500.2,187.1h4.6"/><path d="M540.8,160.6V111.2M538.5,160.6h4.6M538.5,111.2h4.6"/><path d="M546.4,175.0V125.1M544.1,175.0h4.6M544.1,125.1h4.6"/><path d="M503.4,215.1V145.6M501.1,215.1h4.6M501.1,145.6h4.6"/><path d="M467.2,226.8V208.5M464.9,226.8h4.6M464.9,208.5h4.6"/><path d="M626.0,94.0V51.5M623.7,94.0h4.6M623.7,51.5h4.6"/><path d="M503.9,214.8V172.4M501.6,214.8h4.6M501.6,172.4h4.6"/><path d="M505.5,211.2V71.6M503.2,211.2h4.6M503.2,71.6h4.6"/><path d="M578.1,155.1V95.2M575.8,155.1h4.6M575.8,95.2h4.6"/><path d="M533.8,183.6V141.5M531.5,183.6h4.6M531.5,141.5h4.6"/><path d="M521.6,200.0V162.3M519.3,200.0h4.6M519.3,162.3h4.6"/><path d="M555.9,179.0V131.1M553.6,179.0h4.6M553.6,131.1h4.6"/><path d="M473.4,224.4V181.9M471.1,224.4h4.6M471.1,181.9h4.6"/><path d="M547.6,165.5V103.8M545.3,165.5h4.6M545.3,103.8h4.6"/><path d="M511.7,208.2V90.5M509.4,208.2h4.6M509.4,90.5h4.6"/><path d="M482.3,218.2V181.8M480.0,218.2h4.6M480.0,181.8h4.6"/><path d="M542.2,181.8V138.4M539.9,181.8h4.6M539.9,138.4h4.6"/><path d="M592.1,146.8V54.4M589.8,146.8h4.6M589.8,54.4h4.6"/><path d="M494.6,201.9V165.6M492.3,201.9h4.6M492.3,165.6h4.6"/><path d="M538.8,166.1V125.2M536.5,166.1h4.6M536.5,125.2h4.6"/><path d="M503.9,225.2V202.2M501.6,225.2h4.6M501.6,202.2h4.6"/><path d="M551.8,201.3V145.6M549.5,201.3h4.6M549.5,145.6h4.6"/><path d="M549.4,172.3V139.4M547.1,172.3h4.6M547.1,139.4h4.6"/><path d="M495.8,207.8V167.3M493.5,207.8h4.6M493.5,167.3h4.6"/><path d="M564.6,156.9V102.1M562.3,156.9h4.6M562.3,102.1h4.6"/><path d="M541.9,176.6V121.1M539.6,176.6h4.6M539.6,121.1h4.6"/><path d="M544.8,170.1V76.8M542.5,170.1h4.6M542.5,76.8h4.6"/><path d="M562.9,170.0V97.7M560.6,170.0h4.6M560.6,97.7h4.6"/><path d="M517.2,199.8V155.5M514.9,199.8h4.6M514.9,155.5h4.6"/><path d="M554.0,155.1V105.7M551.7,155.1h4.6M551.7,105.7h4.6"/><path d="M574.7,148.6V65.7M572.4,148.6h4.6M572.4,65.7h4.6"/><path d="M483.7,225.1V191.3M481.4,225.1h4.6M481.4,191.3h4.6"/><path d="M568.3,155.7V109.4M566.0,155.7h4.6M566.0,109.4h4.6"/><path d="M513.7,194.8V160.8M511.4,194.8h4.6M511.4,160.8h4.6"/><path d="M522.5,209.8V146.9M520.2,209.8h4.6M520.2,146.9h4.6"/><path d="M488.4,221.5V166.0M486.1,221.5h4.6M486.1,166.0h4.6"/><path d="M546.6,149.0V70.2M544.3,149.0h4.6M544.3,70.2h4.6"/><path d="M503.3,214.4V92.7M501.0,214.4h4.6M501.0,92.7h4.6"/><path d="M572.9,180.8V97.1M570.6,180.8h4.6M570.6,97.1h4.6"/><path d="M501.6,216.1V183.0M499.3,216.1h4.6M499.3,183.0h4.6"/><path d="M531.2,189.4V115.8M528.9,189.4h4.6M528.9,115.8h4.6"/><path d="M514.3,202.0V140.0M512.0,202.0h4.6M512.0,140.0h4.6"/><path d="M536.8,170.2V92.9M534.5,170.2h4.6M534.5,92.9h4.6"/><path d="M493.5,225.3V196.3M491.2,225.3h4.6M491.2,196.3h4.6"/><path d="M491.9,224.6V184.4M489.6,224.6h4.6M489.6,184.4h4.6"/><path d="M552.4,147.1V110.1M550.1,147.1h4.6M550.1,110.1h4.6"/><path d="M553.1,175.1V126.0M550.8,175.1h4.6M550.8,126.0h4.6"/><path d="M531.8,180.2V110.0M529.5,180.2h4.6M529.5,110.0h4.6"/><path d="M587.6,148.3V60.5M585.3,148.3h4.6M585.3,60.5h4.6"/><path d="M494.5,213.3V175.4M492.2,213.3h4.6M492.2,175.4h4.6"/><path d="M568.5,144.3V88.6M566.2,144.3h4.6M566.2,88.6h4.6"/><path d="M490.7,217.6V176.3M488.4,217.6h4.6M488.4,176.3h4.6"/><path d="M614.8,109.2V52.3M612.5,109.2h4.6M612.5,52.3h4.6"/><path d="M538.0,198.7V117.8M535.7,198.7h4.6M535.7,117.8h4.6"/><path d="M536.2,174.2V131.7M533.9,174.2h4.6M533.9,131.7h4.6"/><path d="M621.9,99.3V51.2M619.6,99.3h4.6M619.6,51.2h4.6"/><path d="M557.8,160.5V105.0M555.5,160.5h4.6M555.5,105.0h4.6"/><path d="M558.2,145.8V97.5M555.9,145.8h4.6M555.9,97.5h4.6"/><path d="M477.4,229.6V204.2M475.1,229.6h4.6M475.1,204.2h4.6"/><path d="M511.2,210.3V175.6M508.9,210.3h4.6M508.9,175.6h4.6"/><path d="M481.6,227.9V200.8M479.3,227.9h4.6M479.3,200.8h4.6"/><path d="M493.2,225.2V179.6M490.9,225.2h4.6M490.9,179.6h4.6"/><path d="M495.3,214.8V172.1M493.0,214.8h4.6M493.0,172.1h4.6"/><path d="M570.1,152.1V110.5M567.8,152.1h4.6M567.8,110.5h4.6"/><path d="M486.4,222.8V168.0M484.1,222.8h4.6M484.1,168.0h4.6"/><path d="M503.8,224.0V152.8M501.5,224.0h4.6M501.5,152.8h4.6"/><path d="M523.9,194.0V157.5M521.6,194.0h4.6M521.6,157.5h4.6"/><path d="M568.2,172.3V84.7M565.9,172.3h4.6M565.9,84.7h4.6"/><path d="M615.7,106.5V57.0M613.4,106.5h4.6M613.4,57.0h4.6"/><path d="M547.8,159.8V115.3M545.5,159.8h4.6M545.5,115.3h4.6"/><path d="M495.3,227.0V196.3M493.0,227.0h4.6M493.0,196.3h4.6"/><path d="M529.4,179.1V108.4M527.1,179.1h4.6M527.1,108.4h4.6"/><path d="M547.5,156.0V98.6M545.2,156.0h4.6M545.2,98.6h4.6"/><path d="M477.1,228.1V195.1M474.8,228.1h4.6M474.8,195.1h4.6"/><path d="M544.5,164.4V115.7M542.2,164.4h4.6M542.2,115.7h4.6"/><path d="M511.1,195.8V71.3M508.8,195.8h4.6M508.8,71.3h4.6"/><path d="M534.3,168.6V124.0M532.0,168.6h4.6M532.0,124.0h4.6"/><path d="M543.3,183.8V129.1M541.0,183.8h4.6M541.0,129.1h4.6"/><path d="M543.2,182.9V105.5M540.9,182.9h4.6M540.9,105.5h4.6"/><path d="M527.0,194.5V94.3M524.7,194.5h4.6M524.7,94.3h4.6"/><path d="M530.4,188.4V127.0M528.1,188.4h4.6M528.1,127.0h4.6"/><path d="M493.7,225.2V203.7M491.4,225.2h4.6M491.4,203.7h4.6"/><path d="M524.1,198.8V85.9M521.8,198.8h4.6M521.8,85.9h4.6"/><path d="M486.2,227.3V194.7M483.9,227.3h4.6M483.9,194.7h4.6"/><path d="M522.6,201.4V142.2M520.3,201.4h4.6M520.3,142.2h4.6"/><path d="M528.4,185.9V145.8M526.1,185.9h4.6M526.1,145.8h4.6"/><path d="M556.0,150.6V107.8M553.7,150.6h4.6M553.7,107.8h4.6"/><path d="M513.7,208.0V163.6M511.4,208.0h4.6M511.4,163.6h4.6"/><path d="M471.2,229.1V208.1M468.9,229.1h4.6M468.9,208.1h4.6"/><path d="M527.5,190.5V118.4M525.2,190.5h4.6M525.2,118.4h4.6"/><path d="M494.4,209.1V165.7M492.1,209.1h4.6M492.1,165.7h4.6"/><path d="M551.7,178.7V103.8M549.4,178.7h4.6M549.4,103.8h4.6"/><path d="M513.2,201.9V136.3M510.9,201.9h4.6M510.9,136.3h4.6"/><path d="M512.3,203.0V161.2M510.0,203.0h4.6M510.0,161.2h4.6"/><path d="M583.4,152.0V83.1M581.1,152.0h4.6M581.1,83.1h4.6"/><path d="M513.6,190.0V146.6M511.3,190.0h4.6M511.3,146.6h4.6"/><path d="M509.1,220.2V165.5M506.8,220.2h4.6M506.8,165.5h4.6"/><path d="M509.0,201.2V153.7M506.7,201.2h4.6M506.7,153.7h4.6"/><path d="M522.6,206.9V158.9M520.3,206.9h4.6M520.3,158.9h4.6"/><path d="M482.6,229.4V187.2M480.3,229.4h4.6M480.3,187.2h4.6"/><path d="M529.6,195.7V152.6M527.3,195.7h4.6M527.3,152.6h4.6"/><path d="M587.7,155.9V68.7M585.4,155.9h4.6M585.4,68.7h4.6"/><path d="M531.3,180.4V112.5M529.0,180.4h4.6M529.0,112.5h4.6"/><path d="M552.1,161.4V116.6M549.8,161.4h4.6M549.8,116.6h4.6"/><path d="M600.9,130.6V44.0M598.6,130.6h4.6M598.6,44.0h4.6"/><path d="M566.8,161.0V95.6M564.5,161.0h4.6M564.5,95.6h4.6"/><path d="M552.1,172.3V89.6M549.8,172.3h4.6M549.8,89.6h4.6"/><path d="M561.8,180.9V97.3M559.5,180.9h4.6M559.5,97.3h4.6"/><path d="M562.9,164.0V120.2M560.6,164.0h4.6M560.6,120.2h4.6"/><path d="M499.4,224.3V166.7M497.1,224.3h4.6M497.1,166.7h4.6"/><path d="M522.7,212.1V154.7M520.4,212.1h4.6M520.4,154.7h4.6"/><path d="M508.5,216.3V168.4M506.2,216.3h4.6M506.2,168.4h4.6"/><path d="M500.2,212.3V178.6M497.9,212.3h4.6M497.9,178.6h4.6"/><path d="M532.3,189.5V121.7M530.0,189.5h4.6M530.0,121.7h4.6"/><path d="M505.9,216.2V165.2M503.6,216.2h4.6M503.6,165.2h4.6"/><path d="M537.5,165.1V99.7M535.2,165.1h4.6M535.2,99.7h4.6"/><path d="M533.5,179.2V84.0M531.2,179.2h4.6M531.2,84.0h4.6"/><path d="M483.9,213.3V180.3M481.6,213.3h4.6M481.6,180.3h4.6"/><path d="M518.6,200.4V151.6M516.3,200.4h4.6M516.3,151.6h4.6"/><path d="M513.3,206.6V175.3M511.0,206.6h4.6M511.0,175.3h4.6"/><path d="M547.6,183.5V69.0M545.3,183.5h4.6M545.3,69.0h4.6"/><path d="M482.0,224.5V185.5M479.7,224.5h4.6M479.7,185.5h4.6"/><path d="M490.7,224.1V212.6M488.4,224.1h4.6M488.4,212.6h4.6"/><path d="M525.9,203.6V81.2M523.6,203.6h4.6M523.6,81.2h4.6"/><path d="M514.8,210.2V137.5M512.5,210.2h4.6M512.5,137.5h4.6"/><path d="M542.8,161.2V69.8M540.5,161.2h4.6M540.5,69.8h4.6"/><path d="M507.5,207.2V140.8M505.2,207.2h4.6M505.2,140.8h4.6"/><path d="M493.6,227.2V196.2M491.3,227.2h4.6M491.3,196.2h4.6"/><path d="M592.3,120.4V75.0M590.0,120.4h4.6M590.0,75.0h4.6"/><path d="M498.4,222.0V191.1M496.1,222.0h4.6M496.1,191.1h4.6"/><path d="M488.5,216.7V183.8M486.2,216.7h4.6M486.2,183.8h4.6"/><path d="M502.0,213.4V178.4M499.7,213.4h4.6M499.7,178.4h4.6"/><path d="M508.2,198.0V163.3M505.9,198.0h4.6M505.9,163.3h4.6"/><path d="M496.4,191.3V153.7M494.1,191.3h4.6M494.1,153.7h4.6"/><path d="M528.5,175.8V133.2M526.2,175.8h4.6M526.2,133.2h4.6"/><path d="M594.9,112.1V31.9M592.6,112.1h4.6M592.6,31.9h4.6"/><path d="M486.3,225.4V189.4M484.0,225.4h4.6M484.0,189.4h4.6"/><path d="M515.9,218.8V148.0M513.6,218.8h4.6M513.6,148.0h4.6"/><path d="M543.1,164.9V91.6M540.8,164.9h4.6M540.8,91.6h4.6"/><path d="M576.3,141.2V45.2M574.0,141.2h4.6M574.0,45.2h4.6"/><path d="M674.7,58.7V26.2M672.4,58.7h4.6M672.4,26.2h4.6"/><path d="M488.1,229.6V179.6M485.8,229.6h4.6M485.8,179.6h4.6"/><path d="M528.6,210.8V71.6M526.3,210.8h4.6M526.3,71.6h4.6"/><path d="M575.4,147.0V91.1M573.1,147.0h4.6M573.1,91.1h4.6"/><path d="M477.2,224.6V189.0M474.9,224.6h4.6M474.9,189.0h4.6"/><path d="M534.1,180.3V144.0M531.8,180.3h4.6M531.8,144.0h4.6"/><path d="M491.2,225.2V178.3M488.9,225.2h4.6M488.9,178.3h4.6"/><path d="M555.2,176.2V129.1M552.9,176.2h4.6M552.9,129.1h4.6"/><path d="M595.3,133.3V27.6M593.0,133.3h4.6M593.0,27.6h4.6"/><path d="M528.7,182.0V120.2M526.4,182.0h4.6M526.4,120.2h4.6"/><path d="M468.7,228.7V191.7M466.4,228.7h4.6M466.4,191.7h4.6"/><path d="M478.9,225.6V202.2M476.6,225.6h4.6M476.6,202.2h4.6"/><path d="M515.9,222.8V94.1M513.6,222.8h4.6M513.6,94.1h4.6"/><path d="M567.8,129.1V83.1M565.5,129.1h4.6M565.5,83.1h4.6"/><path d="M497.6,224.0V166.4M495.3,224.0h4.6M495.3,166.4h4.6"/><path d="M543.2,172.3V72.6M540.9,172.3h4.6M540.9,72.6h4.6"/><path d="M514.9,216.1V133.1M512.6,216.1h4.6M512.6,133.1h4.6"/><path d="M500.5,229.5V205.9M498.2,229.5h4.6M498.2,205.9h4.6"/><path d="M547.3,169.3V128.1M545.0,169.3h4.6M545.0,128.1h4.6"/><path d="M504.9,214.9V172.0M502.6,214.9h4.6M502.6,172.0h4.6"/><path d="M511.4,200.5V163.2M509.1,200.5h4.6M509.1,163.2h4.6"/><path d="M554.8,146.5V73.1M552.5,146.5h4.6M552.5,73.1h4.6"/><path d="M524.1,194.8V84.6M521.8,194.8h4.6M521.8,84.6h4.6"/><path d="M557.4,173.9V137.7M555.1,173.9h4.6M555.1,137.7h4.6"/><path d="M526.3,193.9V135.3M524.0,193.9h4.6M524.0,135.3h4.6"/><path d="M489.8,227.2V172.7M487.5,227.2h4.6M487.5,172.7h4.6"/><path d="M518.8,204.7V145.9M516.5,204.7h4.6M516.5,145.9h4.6"/><path d="M573.3,167.9V70.6M571.0,167.9h4.6M571.0,70.6h4.6"/><path d="M531.5,199.2V89.2M529.2,199.2h4.6M529.2,89.2h4.6"/><path d="M615.3,111.5V62.9M613.0,111.5h4.6M613.0,62.9h4.6"/><path d="M467.2,228.3V203.6M464.9,228.3h4.6M464.9,203.6h4.6"/><path d="M508.2,222.8V154.4M505.9,222.8h4.6M505.9,154.4h4.6"/><path d="M555.3,183.3V121.0M553.0,183.3h4.6M553.0,121.0h4.6"/><path d="M545.2,166.1V73.5M542.9,166.1h4.6M542.9,73.5h4.6"/><path d="M531.1,210.4V168.6M528.8,210.4h4.6M528.8,168.6h4.6"/><path d="M542.6,179.7V117.0M540.3,179.7h4.6M540.3,117.0h4.6"/><path d="M574.2,132.3V49.0M571.9,132.3h4.6M571.9,49.0h4.6"/><path d="M544.9,170.7V131.1M542.6,170.7h4.6M542.6,131.1h4.6"/><path d="M529.6,192.9V118.4M527.3,192.9h4.6M527.3,118.4h4.6"/><path d="M531.3,204.6V132.4M529.0,204.6h4.6M529.0,132.4h4.6"/><path d="M542.9,159.0V110.4M540.6,159.0h4.6M540.6,110.4h4.6"/><path d="M506.5,226.3V175.3M504.2,226.3h4.6M504.2,175.3h4.6"/><path d="M543.2,174.9V119.5M540.9,174.9h4.6M540.9,119.5h4.6"/><path d="M537.1,174.1V135.0M534.8,174.1h4.6M534.8,135.0h4.6"/><path d="M557.7,168.5V121.6M555.4,168.5h4.6M555.4,121.6h4.6"/><path d="M522.5,184.6V144.9M520.2,184.6h4.6M520.2,144.9h4.6"/><path d="M472.8,227.2V200.6M470.5,227.2h4.6M470.5,200.6h4.6"/><path d="M528.5,199.3V138.3M526.2,199.3h4.6M526.2,138.3h4.6"/><path d="M569.9,160.7V71.8M567.6,160.7h4.6M567.6,71.8h4.6"/><path d="M539.9,176.9V91.2M537.6,176.9h4.6M537.6,91.2h4.6"/><path d="M540.3,176.5V114.1M538.0,176.5h4.6M538.0,114.1h4.6"/><path d="M513.4,196.9V153.4M511.1,196.9h4.6M511.1,153.4h4.6"/><path d="M509.9,214.2V162.7M507.6,214.2h4.6M507.6,162.7h4.6"/><path d="M549.0,171.0V132.1M546.7,171.0h4.6M546.7,132.1h4.6"/><path d="M480.7,224.1V195.8M478.4,224.1h4.6M478.4,195.8h4.6"/><path d="M571.8,150.6V91.0M569.5,150.6h4.6M569.5,91.0h4.6"/><path d="M574.1,146.9V60.1M571.8,146.9h4.6M571.8,60.1h4.6"/><path d="M612.9,114.8V47.8M610.6,114.8h4.6M610.6,47.8h4.6"/><path d="M487.3,222.2V187.5M485.0,222.2h4.6M485.0,187.5h4.6"/><path d="M485.2,229.2V182.2M482.9,229.2h4.6M482.9,182.2h4.6"/><path d="M578.8,158.7V83.1M576.5,158.7h4.6M576.5,83.1h4.6"/><path d="M514.4,204.0V141.7M512.1,204.0h4.6M512.1,141.7h4.6"/><path d="M501.1,227.4V185.3M498.8,227.4h4.6M498.8,185.3h4.6"/><path d="M512.5,212.3V158.2M510.2,212.3h4.6M510.2,158.2h4.6"/><path d="M542.1,168.9V82.7M539.8,168.9h4.6M539.8,82.7h4.6"/><path d="M489.9,229.2V193.1M487.6,229.2h4.6M487.6,193.1h4.6"/><path d="M523.3,204.0V141.2M521.0,204.0h4.6M521.0,141.2h4.6"/><path d="M542.2,190.6V93.9M539.9,190.6h4.6M539.9,93.9h4.6"/><path d="M549.3,176.3V121.8M547.0,176.3h4.6M547.0,121.8h4.6"/><path d="M469.5,223.7V202.9M467.2,223.7h4.6M467.2,202.9h4.6"/><path d="M561.4,162.1V112.9M559.1,162.1h4.6M559.1,112.9h4.6"/><path d="M517.8,213.0V157.6M515.5,213.0h4.6M515.5,157.6h4.6"/><path d="M518.0,200.1V155.9M515.7,200.1h4.6M515.7,155.9h4.6"/><path d="M531.3,171.7V109.8M529.0,171.7h4.6M529.0,109.8h4.6"/><path d="M502.1,209.7V173.2M499.8,209.7h4.6M499.8,173.2h4.6"/><path d="M576.8,149.4V64.1M574.5,149.4h4.6M574.5,64.1h4.6"/><path d="M495.1,227.0V169.6M492.8,227.0h4.6M492.8,169.6h4.6"/><path d="M529.1,190.9V144.8M526.8,190.9h4.6M526.8,144.8h4.6"/><path d="M490.6,229.4V184.7M488.3,229.4h4.6M488.3,184.7h4.6"/><path d="M537.2,203.9V145.4M534.9,203.9h4.6M534.9,145.4h4.6"/><path d="M581.0,154.0V53.6M578.7,154.0h4.6M578.7,53.6h4.6"/><path d="M575.7,134.0V52.0M573.4,134.0h4.6M573.4,52.0h4.6"/><path d="M487.2,220.5V186.2M484.9,220.5h4.6M484.9,186.2h4.6"/><path d="M538.2,191.1V127.8M535.9,191.1h4.6M535.9,127.8h4.6"/><path d="M578.3,127.5V72.2M576.0,127.5h4.6M576.0,72.2h4.6"/><path d="M493.9,223.7V184.0M491.6,223.7h4.6M491.6,184.0h4.6"/><path d="M515.8,206.0V171.6M513.5,206.0h4.6M513.5,171.6h4.6"/><path d="M548.4,175.5V141.1M546.1,175.5h4.6M546.1,141.1h4.6"/><path d="M551.4,181.6V108.0M549.1,181.6h4.6M549.1,108.0h4.6"/><path d="M519.5,206.9V151.6M517.2,206.9h4.6M517.2,151.6h4.6"/><path d="M539.7,160.3V97.4M537.4,160.3h4.6M537.4,97.4h4.6"/><path d="M543.2,180.1V111.4M540.9,180.1h4.6M540.9,111.4h4.6"/><path d="M509.5,211.2V69.0M507.2,211.2h4.6M507.2,69.0h4.6"/><path d="M541.2,184.4V124.6M538.9,184.4h4.6M538.9,124.6h4.6"/><path d="M532.9,192.7V125.1M530.6,192.7h4.6M530.6,125.1h4.6"/><path d="M546.5,185.0V77.4M544.2,185.0h4.6M544.2,77.4h4.6"/><path d="M525.8,191.5V126.3M523.5,191.5h4.6M523.5,126.3h4.6"/><path d="M507.8,208.3V157.4M505.5,208.3h4.6M505.5,157.4h4.6"/><path d="M517.8,201.3V144.1M515.5,201.3h4.6M515.5,144.1h4.6"/><path d="M588.1,129.7V63.6M585.8,129.7h4.6M585.8,63.6h4.6"/><path d="M492.6,223.5V203.6M490.3,223.5h4.6M490.3,203.6h4.6"/><path d="M488.6,226.7V209.9M486.3,226.7h4.6M486.3,209.9h4.6"/><path d="M469.5,225.6V194.1M467.2,225.6h4.6M467.2,194.1h4.6"/><path d="M568.8,152.2V61.0M566.5,152.2h4.6M566.5,61.0h4.6"/><path d="M651.0,76.9V19.6M648.7,76.9h4.6M648.7,19.6h4.6"/><path d="M497.6,225.4V167.8M495.3,225.4h4.6M495.3,167.8h4.6"/><path d="M500.6,214.3V177.0M498.3,214.3h4.6M498.3,177.0h4.6"/><path d="M493.7,223.5V170.7M491.4,223.5h4.6M491.4,170.7h4.6"/><path d="M535.4,180.6V120.0M533.1,180.6h4.6M533.1,120.0h4.6"/><path d="M523.0,201.3V152.7M520.7,201.3h4.6M520.7,152.7h4.6"/><path d="M563.0,160.3V82.5M560.7,160.3h4.6M560.7,82.5h4.6"/><path d="M494.9,218.0V184.6M492.6,218.0h4.6M492.6,184.6h4.6"/><path d="M574.5,155.7V71.4M572.2,155.7h4.6M572.2,71.4h4.6"/><path d="M520.9,215.2V175.8M518.6,215.2h4.6M518.6,175.8h4.6"/><path d="M560.9,187.5V85.2M558.6,187.5h4.6M558.6,85.2h4.6"/><path d="M560.0,171.4V84.3M557.7,171.4h4.6M557.7,84.3h4.6"/><path d="M583.8,153.0V101.5M581.5,153.0h4.6M581.5,101.5h4.6"/><path d="M524.5,198.7V118.0M522.2,198.7h4.6M522.2,118.0h4.6"/><path d="M536.5,170.5V129.1M534.2,170.5h4.6M534.2,129.1h4.6"/><path d="M531.1,189.5V113.3M528.8,189.5h4.6M528.8,113.3h4.6"/><path d="M492.9,223.8V179.7M490.6,223.8h4.6M490.6,179.7h4.6"/><path d="M524.8,192.7V124.6M522.5,192.7h4.6M522.5,124.6h4.6"/><path d="M589.8,123.6V51.5M587.5,123.6h4.6M587.5,51.5h4.6"/><path d="M583.2,156.9V75.3M580.9,156.9h4.6M580.9,75.3h4.6"/><path d="M471.6,225.0V192.8M469.3,225.0h4.6M469.3,192.8h4.6"/><path d="M542.5,183.1V91.9M540.2,183.1h4.6M540.2,91.9h4.6"/><path d="M506.8,217.7V154.1M504.5,217.7h4.6M504.5,154.1h4.6"/><path d="M487.3,211.1V175.7M485.0,211.1h4.6M485.0,175.7h4.6"/><path d="M487.7,223.8V197.2M485.4,223.8h4.6M485.4,197.2h4.6"/><path d="M559.0,146.7V104.0M556.7,146.7h4.6M556.7,104.0h4.6"/><path d="M609.9,122.6V54.6M607.6,122.6h4.6M607.6,54.6h4.6"/><path d="M526.7,193.9V159.9M524.4,193.9h4.6M524.4,159.9h4.6"/><path d="M512.6,217.9V174.9M510.3,217.9h4.6M510.3,174.9h4.6"/><path d="M525.6,189.9V124.5M523.3,189.9h4.6M523.3,124.5h4.6"/><path d="M564.5,160.8V71.6M562.2,160.8h4.6M562.2,71.6h4.6"/><path d="M552.4,165.9V108.1M550.1,165.9h4.6M550.1,108.1h4.6"/><path d="M478.9,226.2V217.0M476.6,226.2h4.6M476.6,217.0h4.6"/><path d="M495.2,213.5V165.9M492.9,213.5h4.6M492.9,165.9h4.6"/><path d="M572.1,129.2V67.9M569.8,129.2h4.6M569.8,67.9h4.6"/><path d="M523.9,186.4V155.0M521.6,186.4h4.6M521.6,155.0h4.6"/><path d="M541.9,159.6V76.4M539.6,159.6h4.6M539.6,76.4h4.6"/><path d="M556.5,159.8V87.7M554.2,159.8h4.6M554.2,87.7h4.6"/><path d="M539.5,161.7V95.1M537.2,161.7h4.6M537.2,95.1h4.6"/><path d="M550.8,165.1V122.4M548.5,165.1h4.6M548.5,122.4h4.6"/><path d="M529.5,200.6V158.9M527.2,200.6h4.6M527.2,158.9h4.6"/><path d="M496.9,201.4V165.6M494.6,201.4h4.6M494.6,165.6h4.6"/><path d="M492.6,220.6V189.2M490.3,220.6h4.6M490.3,189.2h4.6"/><path d="M660.6,63.0V16.8M658.3,63.0h4.6M658.3,16.8h4.6"/><path d="M469.1,224.4V217.1M466.8,224.4h4.6M466.8,217.1h4.6"/><path d="M545.7,193.0V132.6M543.4,193.0h4.6M543.4,132.6h4.6"/><path d="M575.2,143.3V94.6M572.9,143.3h4.6M572.9,94.6h4.6"/><path d="M497.1,225.4V181.4M494.8,225.4h4.6M494.8,181.4h4.6"/><path d="M476.5,227.8V176.0M474.2,227.8h4.6M474.2,176.0h4.6"/><path d="M514.2,206.9V138.1M511.9,206.9h4.6M511.9,138.1h4.6"/><path d="M507.2,227.7V183.4M504.9,227.7h4.6M504.9,183.4h4.6"/><path d="M520.6,215.4V162.1M518.3,215.4h4.6M518.3,162.1h4.6"/><path d="M517.1,214.7V156.0M514.8,214.7h4.6M514.8,156.0h4.6"/><path d="M597.8,142.1V93.1M595.5,142.1h4.6M595.5,93.1h4.6"/><path d="M485.6,226.6V195.9M483.3,226.6h4.6M483.3,195.9h4.6"/><path d="M599.0,128.3V64.0M596.7,128.3h4.6M596.7,64.0h4.6"/><path d="M476.1,225.7V200.6M473.8,225.7h4.6M473.8,200.6h4.6"/><path d="M595.6,133.2V65.8M593.3,133.2h4.6M593.3,65.8h4.6"/><path d="M507.5,207.1V155.2M505.2,207.1h4.6M505.2,155.2h4.6"/><path d="M550.0,155.1V87.8M547.7,155.1h4.6M547.7,87.8h4.6"/><path d="M467.2,229.3V190.5M464.9,229.3h4.6M464.9,190.5h4.6"/><path d="M519.1,214.4V149.1M516.8,214.4h4.6M516.8,149.1h4.6"/><path d="M544.2,168.0V102.1M541.9,168.0h4.6M541.9,102.1h4.6"/><path d="M538.6,180.7V143.1M536.3,180.7h4.6M536.3,143.1h4.6"/><path d="M560.7,154.2V95.2M558.4,154.2h4.6M558.4,95.2h4.6"/><path d="M489.1,229.4V195.4M486.8,229.4h4.6M486.8,195.4h4.6"/><path d="M514.4,195.0V158.0M512.1,195.0h4.6M512.1,158.0h4.6"/><path d="M536.9,187.5V83.9M534.6,187.5h4.6M534.6,83.9h4.6"/><path d="M473.1,226.8V205.2M470.8,226.8h4.6M470.8,205.2h4.6"/><path d="M565.6,149.5V85.0M563.3,149.5h4.6M563.3,85.0h4.6"/><path d="M516.0,200.2V153.8M513.7,200.2h4.6M513.7,153.8h4.6"/><path d="M498.6,226.5V192.9M496.3,226.5h4.6M496.3,192.9h4.6"/><path d="M496.2,229.5V179.9M493.9,229.5h4.6M493.9,179.9h4.6"/><path d="M541.1,170.9V122.9M538.8,170.9h4.6M538.8,122.9h4.6"/><path d="M476.4,224.7V203.9M474.1,224.7h4.6M474.1,203.9h4.6"/><path d="M498.4,224.9V180.1M496.1,224.9h4.6M496.1,180.1h4.6"/><path d="M504.5,217.5V163.9M502.2,217.5h4.6M502.2,163.9h4.6"/><path d="M499.9,225.3V168.7M497.6,225.3h4.6M497.6,168.7h4.6"/><path d="M550.4,160.5V69.4M548.1,160.5h4.6M548.1,69.4h4.6"/><path d="M534.6,179.5V78.8M532.3,179.5h4.6M532.3,78.8h4.6"/><path d="M581.7,148.2V101.8M579.4,148.2h4.6M579.4,101.8h4.6"/><path d="M546.9,187.6V152.1M544.6,187.6h4.6M544.6,152.1h4.6"/><path d="M503.5,226.2V158.5M501.2,226.2h4.6M501.2,158.5h4.6"/><path d="M506.6,202.0V153.1M504.3,202.0h4.6M504.3,153.1h4.6"/><path d="M486.0,225.1V186.6M483.7,225.1h4.6M483.7,186.6h4.6"/><path d="M498.2,216.5V157.8M495.9,216.5h4.6M495.9,157.8h4.6"/><path d="M535.9,189.5V127.4M533.6,189.5h4.6M533.6,127.4h4.6"/><path d="M550.5,175.2V139.9M548.2,175.2h4.6M548.2,139.9h4.6"/><path d="M503.7,210.5V79.5M501.4,210.5h4.6M501.4,79.5h4.6"/><path d="M508.6,210.6V159.2M506.3,210.6h4.6M506.3,159.2h4.6"/><path d="M560.2,151.1V92.5M557.9,151.1h4.6M557.9,92.5h4.6"/><path d="M609.3,116.8V60.5M607.0,116.8h4.6M607.0,60.5h4.6"/><path d="M481.6,229.4V192.0M479.3,229.4h4.6M479.3,192.0h4.6"/><path d="M479.8,225.1V209.2M477.5,225.1h4.6M477.5,209.2h4.6"/><path d="M554.0,159.4V103.9M551.7,159.4h4.6M551.7,103.9h4.6"/><path d="M524.2,198.0V87.6M521.9,198.0h4.6M521.9,87.6h4.6"/><path d="M516.9,213.3V160.2M514.6,213.3h4.6M514.6,160.2h4.6"/><path d="M539.1,181.5V135.4M536.8,181.5h4.6M536.8,135.4h4.6"/><path d="M554.2,157.2V89.1M551.9,157.2h4.6M551.9,89.1h4.6"/><path d="M479.6,225.8V196.9M477.3,225.8h4.6M477.3,196.9h4.6"/><path d="M612.3,120.2V52.3M610.0,120.2h4.6M610.0,52.3h4.6"/><path d="M609.0,112.8V55.6M606.7,112.8h4.6M606.7,55.6h4.6"/><path d="M516.0,214.9V166.2M513.7,214.9h4.6M513.7,166.2h4.6"/><path d="M521.4,191.6V122.8M519.1,191.6h4.6M519.1,122.8h4.6"/><path d="M501.3,223.5V183.0M499.0,223.5h4.6M499.0,183.0h4.6"/><path d="M534.0,197.5V135.8M531.7,197.5h4.6M531.7,135.8h4.6"/><path d="M494.4,221.1V166.2M492.1,221.1h4.6M492.1,166.2h4.6"/><path d="M528.3,182.9V109.9M526.0,182.9h4.6M526.0,109.9h4.6"/><path d="M581.8,154.9V52.2M579.5,154.9h4.6M579.5,52.2h4.6"/><path d="M525.3,186.4V89.3M523.0,186.4h4.6M523.0,89.3h4.6"/><path d="M564.1,148.5V90.6M561.8,148.5h4.6M561.8,90.6h4.6"/><path d="M491.8,226.8V160.0M489.5,226.8h4.6M489.5,160.0h4.6"/><path d="M575.9,147.3V80.6M573.6,147.3h4.6M573.6,80.6h4.6"/><path d="M486.0,224.6V159.9M483.7,224.6h4.6M483.7,159.9h4.6"/><path d="M495.2,214.3V179.4M492.9,214.3h4.6M492.9,179.4h4.6"/><path d="M549.2,153.7V103.9M546.9,153.7h4.6M546.9,103.9h4.6"/><path d="M504.3,221.7V184.1M502.0,221.7h4.6M502.0,184.1h4.6"/><path d="M485.6,224.0V178.7M483.3,224.0h4.6M483.3,178.7h4.6"/><path d="M481.8,228.0V207.6M479.5,228.0h4.6M479.5,207.6h4.6"/><path d="M558.7,170.5V125.9M556.4,170.5h4.6M556.4,125.9h4.6"/><path d="M471.3,229.6V204.7M469.0,229.6h4.6M469.0,204.7h4.6"/><path d="M477.7,228.2V212.9M475.4,228.2h4.6M475.4,212.9h4.6"/><path d="M599.9,135.2V26.6M597.6,135.2h4.6M597.6,26.6h4.6"/><path d="M557.1,181.0V110.5M554.8,181.0h4.6M554.8,110.5h4.6"/><path d="M511.3,197.9V133.7M509.0,197.9h4.6M509.0,133.7h4.6"/><path d="M493.1,223.5V175.8M490.8,223.5h4.6M490.8,175.8h4.6"/><path d="M572.0,167.5V96.9M569.7,167.5h4.6M569.7,96.9h4.6"/><path d="M557.9,161.2V99.3M555.6,161.2h4.6M555.6,99.3h4.6"/><path d="M543.1,174.5V95.3M540.8,174.5h4.6M540.8,95.3h4.6"/><path d="M527.8,196.8V150.3M525.5,196.8h4.6M525.5,150.3h4.6"/><path d="M527.3,192.5V121.3M525.0,192.5h4.6M525.0,121.3h4.6"/><path d="M632.8,97.4V37.4M630.5,97.4h4.6M630.5,37.4h4.6"/><path d="M527.0,180.4V129.2M524.7,180.4h4.6M524.7,129.2h4.6"/><path d="M481.5,224.3V187.5M479.2,224.3h4.6M479.2,187.5h4.6"/><path d="M480.3,227.3V198.0M478.0,227.3h4.6M478.0,198.0h4.6"/><path d="M534.9,185.7V113.8M532.6,185.7h4.6M532.6,113.8h4.6"/><path d="M550.7,184.8V81.9M548.4,184.8h4.6M548.4,81.9h4.6"/><path d="M538.5,208.6V164.6M536.2,208.6h4.6M536.2,164.6h4.6"/><path d="M551.9,171.3V115.4M549.6,171.3h4.6M549.6,115.4h4.6"/><path d="M503.5,219.0V191.6M501.2,219.0h4.6M501.2,191.6h4.6"/><path d="M511.4,195.4V139.1M509.1,195.4h4.6M509.1,139.1h4.6"/><path d="M500.6,223.6V155.8M498.3,223.6h4.6M498.3,155.8h4.6"/><path d="M511.5,211.4V178.7M509.2,211.4h4.6M509.2,178.7h4.6"/><path d="M500.7,226.3V175.4M498.4,226.3h4.6M498.4,175.4h4.6"/><path d="M565.3,155.9V70.6M563.0,155.9h4.6M563.0,70.6h4.6"/><path d="M488.6,224.8V192.1M486.3,224.8h4.6M486.3,192.1h4.6"/><path d="M494.7,223.9V189.0M492.4,223.9h4.6M492.4,189.0h4.6"/><path d="M548.5,182.1V106.6M546.2,182.1h4.6M546.2,106.6h4.6"/><path d="M514.1,220.7V140.9M511.8,220.7h4.6M511.8,140.9h4.6"/><path d="M508.3,206.6V165.9M506.0,206.6h4.6M506.0,165.9h4.6"/><path d="M627.5,112.1V43.0M625.2,112.1h4.6M625.2,43.0h4.6"/><path d="M578.7,126.9V76.6M576.4,126.9h4.6M576.4,76.6h4.6"/><path d="M495.8,201.0V157.5M493.5,201.0h4.6M493.5,157.5h4.6"/><path d="M489.3,224.8V206.6M487.0,224.8h4.6M487.0,206.6h4.6"/><path d="M523.8,170.2V127.2M521.5,170.2h4.6M521.5,127.2h4.6"/><path d="M532.5,177.2V137.9M530.2,177.2h4.6M530.2,137.9h4.6"/><path d="M508.9,199.6V77.0M506.6,199.6h4.6M506.6,77.0h4.6"/><path d="M534.4,193.5V83.9M532.1,193.5h4.6M532.1,83.9h4.6"/><path d="M544.3,180.4V97.4M542.0,180.4h4.6M542.0,97.4h4.6"/><path d="M562.0,150.1V112.0M559.7,150.1h4.6M559.7,112.0h4.6"/><path d="M498.2,224.2V160.0M495.9,224.2h4.6M495.9,160.0h4.6"/><path d="M540.5,173.1V82.5M538.2,173.1h4.6M538.2,82.5h4.6"/><path d="M478.0,228.2V179.1M475.7,228.2h4.6M475.7,179.1h4.6"/><path d="M479.0,229.1V208.8M476.7,229.1h4.6M476.7,208.8h4.6"/><path d="M477.6,227.3V199.2M475.3,227.3h4.6M475.3,199.2h4.6"/><path d="M485.3,219.4V183.4M483.0,219.4h4.6M483.0,183.4h4.6"/><path d="M557.1,156.0V104.0M554.8,156.0h4.6M554.8,104.0h4.6"/><path d="M511.3,207.0V170.7M509.0,207.0h4.6M509.0,170.7h4.6"/><path d="M523.9,195.2V150.4M521.6,195.2h4.6M521.6,150.4h4.6"/><path d="M519.5,204.1V151.4M517.2,204.1h4.6M517.2,151.4h4.6"/><path d="M494.6,227.1V196.9M492.3,227.1h4.6M492.3,196.9h4.6"/><path d="M476.1,226.6V215.8M473.8,226.6h4.6M473.8,215.8h4.6"/><path d="M492.0,207.1V160.0M489.7,207.1h4.6M489.7,160.0h4.6"/><path d="M570.0,148.3V110.7M567.7,148.3h4.6M567.7,110.7h4.6"/><path d="M508.0,220.4V155.4M505.7,220.4h4.6M505.7,155.4h4.6"/><path d="M516.4,215.6V157.1M514.1,215.6h4.6M514.1,157.1h4.6"/><path d="M500.5,204.4V159.9M498.2,204.4h4.6M498.2,159.9h4.6"/><path d="M551.7,155.2V77.0M549.4,155.2h4.6M549.4,77.0h4.6"/><path d="M547.1,184.2V91.4M544.8,184.2h4.6M544.8,91.4h4.6"/><path d="M512.7,209.4V144.2M510.4,209.4h4.6M510.4,144.2h4.6"/><path d="M525.3,193.3V148.9M523.0,193.3h4.6M523.0,148.9h4.6"/><path d="M513.9,192.7V129.3M511.6,192.7h4.6M511.6,129.3h4.6"/><path d="M532.5,177.2V73.1M530.2,177.2h4.6M530.2,73.1h4.6"/><path d="M534.7,196.5V121.1M532.4,196.5h4.6M532.4,121.1h4.6"/><path d="M532.9,173.5V110.9M530.6,173.5h4.6M530.6,110.9h4.6"/><path d="M580.9,137.8V74.5M578.6,137.8h4.6M578.6,74.5h4.6"/><path d="M603.0,118.8V45.4M600.7,118.8h4.6M600.7,45.4h4.6"/><path d="M477.0,225.1V201.6M474.7,225.1h4.6M474.7,201.6h4.6"/><path d="M512.2,223.2V72.3M509.9,223.2h4.6M509.9,72.3h4.6"/><path d="M475.2,223.6V203.1M472.9,223.6h4.6M472.9,203.1h4.6"/><path d="M511.7,203.5V153.3M509.4,203.5h4.6M509.4,153.3h4.6"/><path d="M560.2,163.0V99.2M557.9,163.0h4.6M557.9,99.2h4.6"/><path d="M544.4,190.6V108.6M542.1,190.6h4.6M542.1,108.6h4.6"/><path d="M531.8,158.6V116.2M529.5,158.6h4.6M529.5,116.2h4.6"/><path d="M481.8,228.5V184.1M479.5,228.5h4.6M479.5,184.1h4.6"/><path d="M561.5,162.5V79.3M559.2,162.5h4.6M559.2,79.3h4.6"/><path d="M536.8,186.6V128.0M534.5,186.6h4.6M534.5,128.0h4.6"/><path d="M504.4,208.8V159.5M502.1,208.8h4.6M502.1,159.5h4.6"/><path d="M557.6,148.9V99.1M555.3,148.9h4.6M555.3,99.1h4.6"/><path d="M475.0,229.7V200.8M472.7,229.7h4.6M472.7,200.8h4.6"/><path d="M492.6,215.6V165.9M490.3,215.6h4.6M490.3,165.9h4.6"/><path d="M558.1,175.9V125.2M555.8,175.9h4.6M555.8,125.2h4.6"/><path d="M476.1,228.0V208.5M473.8,228.0h4.6M473.8,208.5h4.6"/><path d="M486.9,223.6V201.5M484.6,223.6h4.6M484.6,201.5h4.6"/><path d="M524.8,188.4V144.9M522.5,188.4h4.6M522.5,144.9h4.6"/><path d="M548.0,167.4V105.5M545.7,167.4h4.6M545.7,105.5h4.6"/><path d="M534.2,196.9V162.0M531.9,196.9h4.6M531.9,162.0h4.6"/><path d="M474.6,201.7V169.5M472.3,201.7h4.6M472.3,169.5h4.6"/><path d="M501.5,224.2V176.2M499.2,224.2h4.6M499.2,176.2h4.6"/><path d="M547.5,162.3V124.2M545.2,162.3h4.6M545.2,124.2h4.6"/><path d="M509.0,196.3V159.4M506.7,196.3h4.6M506.7,159.4h4.6"/><path d="M493.3,215.8V169.2M491.0,215.8h4.6M491.0,169.2h4.6"/><path d="M467.2,227.6V203.9M464.9,227.6h4.6M464.9,203.9h4.6"/><path d="M500.3,228.6V203.2M498.0,228.6h4.6M498.0,203.2h4.6"/><path d="M591.7,142.9V72.3M589.4,142.9h4.6M589.4,72.3h4.6"/><path d="M476.7,229.3V186.7M474.4,229.3h4.6M474.4,186.7h4.6"/><path d="M530.3,194.3V149.7M528.0,194.3h4.6M528.0,149.7h4.6"/><path d="M583.5,141.3V99.9M581.2,141.3h4.6M581.2,99.9h4.6"/><path d="M546.9,196.0V135.4M544.6,196.0h4.6M544.6,135.4h4.6"/><path d="M502.2,218.6V142.5M499.9,218.6h4.6M499.9,142.5h4.6"/><path d="M540.9,183.8V94.3M538.6,183.8h4.6M538.6,94.3h4.6"/><path d="M485.6,225.3V200.4M483.3,225.3h4.6M483.3,200.4h4.6"/><path d="M524.5,191.9V140.4M522.2,191.9h4.6M522.2,140.4h4.6"/><path d="M500.3,216.6V178.8M498.0,216.6h4.6M498.0,178.8h4.6"/><path d="M574.0,167.7V86.4M571.7,167.7h4.6M571.7,86.4h4.6"/><path d="M571.7,156.0V82.9M569.4,156.0h4.6M569.4,82.9h4.6"/><path d="M554.4,159.9V107.4M552.1,159.9h4.6M552.1,107.4h4.6"/><path d="M511.8,199.9V159.8M509.5,199.9h4.6M509.5,159.8h4.6"/><path d="M559.3,161.1V72.6M557.0,161.1h4.6M557.0,72.6h4.6"/><path d="M635.9,91.2V45.3M633.6,91.2h4.6M633.6,45.3h4.6"/><path d="M511.2,207.9V173.1M508.9,207.9h4.6M508.9,173.1h4.6"/><path d="M527.3,184.7V136.5M525.0,184.7h4.6M525.0,136.5h4.6"/><path d="M490.0,229.4V193.6M487.7,229.4h4.6M487.7,193.6h4.6"/><path d="M484.4,227.7V204.3M482.1,227.7h4.6M482.1,204.3h4.6"/><path d="M549.2,166.0V79.9M546.9,166.0h4.6M546.9,79.9h4.6"/><path d="M478.3,229.2V195.4M476.0,229.2h4.6M476.0,195.4h4.6"/><path d="M535.5,177.3V92.0M533.2,177.3h4.6M533.2,92.0h4.6"/><path d="M485.0,219.7V187.7M482.7,219.7h4.6M482.7,187.7h4.6"/><path d="M543.2,186.5V123.0M540.9,186.5h4.6M540.9,123.0h4.6"/><path d="M553.3,167.0V97.1M551.0,167.0h4.6M551.0,97.1h4.6"/><path d="M597.1,114.8V64.6M594.8,114.8h4.6M594.8,64.6h4.6"/><path d="M513.3,208.9V160.1M511.0,208.9h4.6M511.0,160.1h4.6"/><path d="M513.2,214.3V146.3M510.9,214.3h4.6M510.9,146.3h4.6"/><path d="M514.3,222.2V72.9M512.0,222.2h4.6M512.0,72.9h4.6"/><path d="M547.5,202.5V127.9M545.2,202.5h4.6M545.2,127.9h4.6"/><path d="M557.9,166.0V85.9M555.6,166.0h4.6M555.6,85.9h4.6"/><path d="M485.2,224.7V198.6M482.9,224.7h4.6M482.9,198.6h4.6"/><path d="M506.6,210.5V149.5M504.3,210.5h4.6M504.3,149.5h4.6"/><path d="M477.6,225.2V186.6M475.3,225.2h4.6M475.3,186.6h4.6"/><path d="M497.4,224.1V184.0M495.1,224.1h4.6M495.1,184.0h4.6"/><path d="M550.8,172.4V95.1M548.5,172.4h4.6M548.5,95.1h4.6"/><path d="M594.8,113.1V45.5M592.5,113.1h4.6M592.5,45.5h4.6"/><path d="M636.6,75.4V21.1M634.3,75.4h4.6M634.3,21.1h4.6"/><path d="M479.4,228.8V192.7M477.1,228.8h4.6M477.1,192.7h4.6"/><path d="M514.5,205.7V141.2M512.2,205.7h4.6M512.2,141.2h4.6"/><path d="M573.2,158.4V71.4M570.9,158.4h4.6M570.9,71.4h4.6"/><path d="M525.1,199.4V136.1M522.8,199.4h4.6M522.8,136.1h4.6"/><path d="M509.2,214.2V148.8M506.9,214.2h4.6M506.9,148.8h4.6"/><path d="M557.2,172.1V93.6M554.9,172.1h4.6M554.9,93.6h4.6"/><path d="M571.3,142.9V96.8M569.0,142.9h4.6M569.0,96.8h4.6"/><path d="M488.4,228.7V202.6M486.1,228.7h4.6M486.1,202.6h4.6"/><path d="M526.4,210.9V148.4M524.1,210.9h4.6M524.1,148.4h4.6"/><path d="M488.5,225.2V206.4M486.2,225.2h4.6M486.2,206.4h4.6"/><path d="M491.9,225.3V188.1M489.6,225.3h4.6M489.6,188.1h4.6"/><path d="M527.8,172.8V123.2M525.5,172.8h4.6M525.5,123.2h4.6"/><path d="M499.3,206.8V162.3M497.0,206.8h4.6M497.0,162.3h4.6"/><path d="M560.5,165.1V128.8M558.2,165.1h4.6M558.2,128.8h4.6"/><path d="M510.8,223.8V83.5M508.5,223.8h4.6M508.5,83.5h4.6"/><path d="M492.0,209.2V180.6M489.7,209.2h4.6M489.7,180.6h4.6"/><path d="M538.7,179.6V106.5M536.4,179.6h4.6M536.4,106.5h4.6"/><path d="M500.2,222.2V198.2M497.9,222.2h4.6M497.9,198.2h4.6"/><path d="M479.2,218.7V188.3M476.9,218.7h4.6M476.9,188.3h4.6"/><path d="M673.0,57.9V20.4M670.7,57.9h4.6M670.7,20.4h4.6"/><path d="M492.3,204.5V172.8M490.0,204.5h4.6M490.0,172.8h4.6"/><path d="M486.9,218.7V192.6M484.6,218.7h4.6M484.6,192.6h4.6"/><path d="M522.6,207.0V125.6M520.3,207.0h4.6M520.3,125.6h4.6"/><path d="M467.3,226.2V198.3M465.0,226.2h4.6M465.0,198.3h4.6"/><path d="M558.2,174.9V103.1M555.9,174.9h4.6M555.9,103.1h4.6"/><path d="M480.4,223.7V195.4M478.1,223.7h4.6M478.1,195.4h4.6"/><path d="M475.1,225.5V213.6M472.8,225.5h4.6M472.8,213.6h4.6"/><path d="M507.3,149.9V104.0M505.0,149.9h4.6M505.0,104.0h4.6"/><path d="M509.9,163.1V114.1M507.6,163.1h4.6M507.6,114.1h4.6"/><path d="M518.9,168.2V104.4M516.6,168.2h4.6M516.6,104.4h4.6"/><path d="M492.0,181.5V94.5M489.7,181.5h4.6M489.7,94.5h4.6"/><path d="M671.0,144.9V104.6M668.7,144.9h4.6M668.7,104.6h4.6"/><path d="M637.2,153.3V106.6M634.9,153.3h4.6M634.9,106.6h4.6"/><path d="M582.3,185.4V150.4M580.0,185.4h4.6M580.0,150.4h4.6"/></g>
<line x1="467.7" y1="230.3" x2="672.3" y2="26.4" stroke="#f41414" stroke-width="2.2"/>
<g fill="#4682b4" fill-opacity="0.85"><circle cx="481.7" cy="199.3" r="2"/><circle cx="497.6" cy="196.0" r="2"/><circle cx="559.9" cy="138.5" r="2"/><circle cx="533.4" cy="160.9" r="2"/><circle cx="482.7" cy="223.4" r="2"/><circle cx="517.7" cy="183.7" r="2"/><circle cx="522.4" cy="178.8" r="2"/><circle cx="489.8" cy="203.8" r="2"/><circle cx="550.9" cy="149.3" r="2"/><circle cx="485.0" cy="224.2" r="2"/><circle cx="513.4" cy="172.7" r="2"/><circle cx="526.4" cy="154.4" r="2"/><circle cx="517.4" cy="183.5" r="2"/><circle cx="533.9" cy="160.9" r="2"/><circle cx="551.3" cy="145.8" r="2"/><circle cx="607.5" cy="99.5" r="2"/><circle cx="502.5" cy="210.4" r="2"/><circle cx="540.8" cy="141.6" r="2"/><circle cx="546.4" cy="158.2" r="2"/><circle cx="503.4" cy="180.7" r="2"/><circle cx="467.2" cy="227.4" r="2"/><circle cx="626.0" cy="78.7" r="2"/><circle cx="503.9" cy="194.9" r="2"/><circle cx="505.5" cy="182.5" r="2"/><circle cx="578.1" cy="132.3" r="2"/><circle cx="533.8" cy="169.2" r="2"/><circle cx="521.6" cy="181.8" r="2"/><circle cx="555.9" cy="162.3" r="2"/><circle cx="473.4" cy="208.7" r="2"/><circle cx="547.6" cy="146.0" r="2"/><circle cx="511.7" cy="186.4" r="2"/><circle cx="482.3" cy="201.7" r="2"/><circle cx="542.2" cy="167.3" r="2"/><circle cx="592.1" cy="110.8" r="2"/><circle cx="494.6" cy="184.1" r="2"/><circle cx="538.8" cy="150.2" r="2"/><circle cx="503.9" cy="216.9" r="2"/><circle cx="551.8" cy="183.2" r="2"/><circle cx="549.4" cy="161.3" r="2"/><circle cx="495.8" cy="190.0" r="2"/><circle cx="564.6" cy="141.0" r="2"/><circle cx="541.9" cy="159.8" r="2"/><circle cx="544.8" cy="148.4" r="2"/><circle cx="562.9" cy="147.0" r="2"/><circle cx="517.2" cy="178.6" r="2"/><circle cx="554.0" cy="137.8" r="2"/><circle cx="574.7" cy="121.6" r="2"/><circle cx="483.7" cy="208.4" r="2"/><circle cx="568.3" cy="138.9" r="2"/><circle cx="513.7" cy="178.8" r="2"/><circle cx="522.5" cy="180.4" r="2"/><circle cx="488.4" cy="194.4" r="2"/><circle cx="546.6" cy="126.0" r="2"/><circle cx="503.3" cy="201.9" r="2"/><circle cx="572.9" cy="151.1" r="2"/><circle cx="501.6" cy="200.2" r="2"/><circle cx="531.2" cy="163.7" r="2"/><circle cx="514.3" cy="172.6" r="2"/><circle cx="536.8" cy="151.0" r="2"/><circle cx="493.5" cy="211.6" r="2"/><circle cx="491.9" cy="213.2" r="2"/><circle cx="552.4" cy="134.2" r="2"/><circle cx="553.1" cy="158.4" r="2"/><circle cx="531.8" cy="155.7" r="2"/><circle cx="587.6" cy="116.7" r="2"/><circle cx="494.5" cy="194.4" r="2"/><circle cx="568.5" cy="124.9" r="2"/><circle cx="490.7" cy="197.8" r="2"/><circle cx="614.8" cy="91.8" r="2"/><circle cx="538.0" cy="171.6" r="2"/><circle cx="536.2" cy="159.8" r="2"/><circle cx="621.9" cy="83.2" r="2"/><circle cx="557.8" cy="139.2" r="2"/><circle cx="558.2" cy="129.1" r="2"/><circle cx="477.4" cy="221.4" r="2"/><circle cx="511.2" cy="194.1" r="2"/><circle cx="481.6" cy="222.3" r="2"/><circle cx="493.2" cy="206.9" r="2"/><circle cx="495.3" cy="193.7" r="2"/><circle cx="570.1" cy="139.4" r="2"/><circle cx="486.4" cy="197.9" r="2"/><circle cx="503.8" cy="190.6" r="2"/><circle cx="523.9" cy="177.0" r="2"/><circle cx="568.2" cy="146.6" r="2"/><circle cx="615.7" cy="87.9" r="2"/><circle cx="547.8" cy="144.7" r="2"/><circle cx="495.3" cy="220.2" r="2"/><circle cx="529.4" cy="156.8" r="2"/><circle cx="547.5" cy="134.9" r="2"/><circle cx="477.1" cy="215.3" r="2"/><circle cx="544.5" cy="149.9" r="2"/><circle cx="511.1" cy="161.3" r="2"/><circle cx="534.3" cy="151.8" r="2"/><circle cx="543.3" cy="165.7" r="2"/><circle cx="543.2" cy="156.5" r="2"/><circle cx="527.0" cy="173.2" r="2"/><circle cx="530.4" cy="170.0" r="2"/><circle cx="493.7" cy="228.0" r="2"/><circle cx="524.1" cy="166.4" r="2"/><circle cx="486.2" cy="216.9" r="2"/><circle cx="522.6" cy="174.1" r="2"/><circle cx="528.4" cy="171.7" r="2"/><circle cx="556.0" cy="135.0" r="2"/><circle cx="513.7" cy="187.4" r="2"/><circle cx="471.2" cy="229.8" r="2"/><circle cx="527.5" cy="165.5" r="2"/><circle cx="494.4" cy="187.7" r="2"/><circle cx="551.7" cy="151.6" r="2"/><circle cx="513.2" cy="170.3" r="2"/><circle cx="512.3" cy="182.8" r="2"/><circle cx="583.4" cy="123.9" r="2"/><circle cx="513.6" cy="168.3" r="2"/><circle cx="509.1" cy="197.2" r="2"/><circle cx="509.0" cy="178.0" r="2"/><circle cx="522.6" cy="181.0" r="2"/><circle cx="482.6" cy="208.9" r="2"/><circle cx="529.6" cy="182.2" r="2"/><circle cx="587.7" cy="123.0" r="2"/><circle cx="531.3" cy="156.3" r="2"/><circle cx="552.1" cy="145.9" r="2"/><circle cx="600.9" cy="101.3" r="2"/><circle cx="566.8" cy="138.6" r="2"/><circle cx="552.1" cy="143.2" r="2"/><circle cx="561.8" cy="153.4" r="2"/><circle cx="562.9" cy="149.4" r="2"/><circle cx="499.4" cy="199.4" r="2"/><circle cx="522.7" cy="184.5" r="2"/><circle cx="508.5" cy="196.6" r="2"/><circle cx="500.2" cy="197.8" r="2"/><circle cx="532.3" cy="168.1" r="2"/><circle cx="505.9" cy="193.9" r="2"/><circle cx="537.5" cy="144.2" r="2"/><circle cx="533.5" cy="154.9" r="2"/><circle cx="483.9" cy="199.4" r="2"/><circle cx="518.6" cy="179.8" r="2"/><circle cx="513.3" cy="189.9" r="2"/><circle cx="547.6" cy="167.4" r="2"/><circle cx="482.0" cy="217.9" r="2"/><circle cx="490.7" cy="227.9" r="2"/><circle cx="525.9" cy="178.8" r="2"/><circle cx="514.8" cy="175.2" r="2"/><circle cx="542.8" cy="139.6" r="2"/><circle cx="507.5" cy="180.0" r="2"/><circle cx="493.6" cy="212.3" r="2"/><circle cx="592.3" cy="104.7" r="2"/><circle cx="498.4" cy="207.0" r="2"/><circle cx="488.5" cy="199.4" r="2"/><circle cx="502.0" cy="196.4" r="2"/><circle cx="508.2" cy="180.4" r="2"/><circle cx="496.4" cy="173.5" r="2"/><circle cx="528.5" cy="160.6" r="2"/><circle cx="594.9" cy="82.8" r="2"/><circle cx="486.3" cy="208.3" r="2"/><circle cx="515.9" cy="185.6" r="2"/><circle cx="543.1" cy="142.4" r="2"/><circle cx="576.3" cy="106.9" r="2"/><circle cx="674.7" cy="40.2" r="2"/><circle cx="488.1" cy="207.6" r="2"/><circle cx="528.6" cy="185.2" r="2"/><circle cx="575.4" cy="128.0" r="2"/><circle cx="477.2" cy="209.4" r="2"/><circle cx="534.1" cy="165.8" r="2"/><circle cx="491.2" cy="211.5" r="2"/><circle cx="555.2" cy="159.8" r="2"/><circle cx="595.3" cy="103.1" r="2"/><circle cx="528.7" cy="161.7" r="2"/><circle cx="468.7" cy="220.6" r="2"/><circle cx="478.9" cy="214.5" r="2"/><circle cx="515.9" cy="195.5" r="2"/><circle cx="567.8" cy="114.5" r="2"/><circle cx="497.6" cy="200.0" r="2"/><circle cx="543.2" cy="157.8" r="2"/><circle cx="514.9" cy="175.4" r="2"/><circle cx="500.5" cy="219.4" r="2"/><circle cx="547.3" cy="153.1" r="2"/><circle cx="504.9" cy="194.0" r="2"/><circle cx="511.4" cy="182.4" r="2"/><circle cx="554.8" cy="131.1" r="2"/><circle cx="524.1" cy="169.4" r="2"/><circle cx="557.4" cy="162.2" r="2"/><circle cx="526.3" cy="175.8" r="2"/><circle cx="489.8" cy="204.7" r="2"/><circle cx="518.8" cy="177.9" r="2"/><circle cx="573.3" cy="141.3" r="2"/><circle cx="531.5" cy="184.8" r="2"/><circle cx="615.3" cy="96.6" r="2"/><circle cx="467.2" cy="224.7" r="2"/><circle cx="508.2" cy="189.6" r="2"/><circle cx="555.3" cy="163.0" r="2"/><circle cx="545.2" cy="135.8" r="2"/><circle cx="531.1" cy="198.3" r="2"/><circle cx="542.6" cy="160.7" r="2"/><circle cx="574.2" cy="105.0" r="2"/><circle cx="544.9" cy="156.4" r="2"/><circle cx="529.6" cy="166.7" r="2"/><circle cx="531.3" cy="180.0" r="2"/><circle cx="542.9" cy="142.3" r="2"/><circle cx="506.5" cy="204.6" r="2"/><circle cx="543.2" cy="153.6" r="2"/><circle cx="537.1" cy="160.7" r="2"/><circle cx="557.7" cy="153.7" r="2"/><circle cx="522.5" cy="166.5" r="2"/><circle cx="472.8" cy="229.8" r="2"/><circle cx="528.5" cy="177.4" r="2"/><circle cx="569.9" cy="131.3" r="2"/><circle cx="539.9" cy="163.8" r="2"/><circle cx="540.3" cy="154.2" r="2"/><circle cx="513.4" cy="174.8" r="2"/><circle cx="509.9" cy="190.9" r="2"/><circle cx="549.0" cy="156.5" r="2"/><circle cx="480.7" cy="220.9" r="2"/><circle cx="571.8" cy="133.1" r="2"/><circle cx="574.1" cy="118.5" r="2"/><circle cx="612.9" cy="93.5" r="2"/><circle cx="487.3" cy="204.9" r="2"/><circle cx="485.2" cy="212.2" r="2"/><circle cx="578.8" cy="131.5" r="2"/><circle cx="514.4" cy="174.4" r="2"/><circle cx="501.1" cy="207.1" r="2"/><circle cx="512.5" cy="185.3" r="2"/><circle cx="542.1" cy="141.7" r="2"/><circle cx="489.9" cy="218.2" r="2"/><circle cx="523.3" cy="175.8" r="2"/><circle cx="542.2" cy="174.0" r="2"/><circle cx="549.3" cy="155.9" r="2"/><circle cx="469.5" cy="229.8" r="2"/><circle cx="561.4" cy="142.9" r="2"/><circle cx="517.8" cy="186.0" r="2"/><circle cx="518.0" cy="178.8" r="2"/><circle cx="531.3" cy="150.9" r="2"/><circle cx="502.1" cy="192.3" r="2"/><circle cx="576.8" cy="117.6" r="2"/><circle cx="495.1" cy="202.3" r="2"/><circle cx="529.1" cy="172.2" r="2"/><circle cx="490.6" cy="214.8" r="2"/><circle cx="537.2" cy="180.9" r="2"/><circle cx="581.0" cy="119.8" r="2"/><circle cx="575.7" cy="108.4" r="2"/><circle cx="487.2" cy="204.3" r="2"/><circle cx="538.2" cy="166.7" r="2"/><circle cx="578.3" cy="105.7" r="2"/><circle cx="493.9" cy="207.5" r="2"/><circle cx="515.8" cy="188.7" r="2"/><circle cx="548.4" cy="164.2" r="2"/><circle cx="551.4" cy="158.7" r="2"/><circle cx="519.5" cy="181.3" r="2"/><circle cx="539.7" cy="138.6" r="2"/><circle cx="543.2" cy="158.5" r="2"/><circle cx="509.5" cy="199.0" r="2"/><circle cx="541.2" cy="164.5" r="2"/><circle cx="532.9" cy="168.4" r="2"/><circle cx="546.5" cy="171.2" r="2"/><circle cx="525.8" cy="171.4" r="2"/><circle cx="507.8" cy="182.4" r="2"/><circle cx="517.8" cy="176.9" r="2"/><circle cx="588.1" cy="107.5" r="2"/><circle cx="492.6" cy="217.7" r="2"/><circle cx="488.6" cy="225.8" r="2"/><circle cx="469.5" cy="212.5" r="2"/><circle cx="568.8" cy="120.6" r="2"/><circle cx="651.0" cy="57.7" r="2"/><circle cx="497.6" cy="197.3" r="2"/><circle cx="500.6" cy="196.3" r="2"/><circle cx="493.7" cy="197.4" r="2"/><circle cx="535.4" cy="161.5" r="2"/><circle cx="523.0" cy="180.7" r="2"/><circle cx="563.0" cy="135.5" r="2"/><circle cx="494.9" cy="200.4" r="2"/><circle cx="574.5" cy="127.1" r="2"/><circle cx="520.9" cy="196.9" r="2"/><circle cx="560.9" cy="171.0" r="2"/><circle cx="560.0" cy="148.7" r="2"/><circle cx="583.8" cy="135.0" r="2"/><circle cx="524.5" cy="171.4" r="2"/><circle cx="536.5" cy="155.2" r="2"/><circle cx="531.1" cy="165.0" r="2"/><circle cx="492.9" cy="207.8" r="2"/><circle cx="524.8" cy="173.0" r="2"/><circle cx="589.8" cy="99.9" r="2"/><circle cx="583.2" cy="126.1" r="2"/><circle cx="471.6" cy="214.3" r="2"/><circle cx="542.5" cy="149.5" r="2"/><circle cx="506.8" cy="188.0" r="2"/><circle cx="487.3" cy="193.9" r="2"/><circle cx="487.7" cy="216.4" r="2"/><circle cx="559.0" cy="131.5" r="2"/><circle cx="609.9" cy="99.8" r="2"/><circle cx="526.7" cy="179.9" r="2"/><circle cx="512.6" cy="196.4" r="2"/><circle cx="525.6" cy="168.2" r="2"/><circle cx="564.5" cy="146.1" r="2"/><circle cx="552.4" cy="147.0" r="2"/><circle cx="478.9" cy="229.2" r="2"/><circle cx="495.2" cy="190.5" r="2"/><circle cx="572.1" cy="109.6" r="2"/><circle cx="523.9" cy="172.2" r="2"/><circle cx="541.9" cy="140.2" r="2"/><circle cx="556.5" cy="137.8" r="2"/><circle cx="539.5" cy="137.0" r="2"/><circle cx="550.8" cy="148.0" r="2"/><circle cx="529.5" cy="185.8" r="2"/><circle cx="496.9" cy="184.5" r="2"/><circle cx="492.6" cy="205.6" r="2"/><circle cx="660.6" cy="43.7" r="2"/><circle cx="469.1" cy="229.8" r="2"/><circle cx="545.7" cy="171.0" r="2"/><circle cx="575.2" cy="127.8" r="2"/><circle cx="497.1" cy="211.2" r="2"/><circle cx="476.5" cy="203.8" r="2"/><circle cx="514.2" cy="176.7" r="2"/><circle cx="507.2" cy="207.9" r="2"/><circle cx="520.6" cy="193.6" r="2"/><circle cx="517.1" cy="187.0" r="2"/><circle cx="597.8" cy="124.9" r="2"/><circle cx="485.6" cy="212.0" r="2"/><circle cx="599.0" cy="104.0" r="2"/><circle cx="476.1" cy="227.9" r="2"/><circle cx="595.6" cy="112.4" r="2"/><circle cx="507.5" cy="184.9" r="2"/><circle cx="550.0" cy="134.9" r="2"/><circle cx="467.2" cy="212.5" r="2"/><circle cx="519.1" cy="178.7" r="2"/><circle cx="544.2" cy="146.3" r="2"/><circle cx="538.6" cy="168.5" r="2"/><circle cx="560.7" cy="135.4" r="2"/><circle cx="489.1" cy="217.6" r="2"/><circle cx="514.4" cy="175.9" r="2"/><circle cx="536.9" cy="175.3" r="2"/><circle cx="473.1" cy="229.8" r="2"/><circle cx="565.6" cy="135.2" r="2"/><circle cx="516.0" cy="176.2" r="2"/><circle cx="498.6" cy="213.7" r="2"/><circle cx="496.2" cy="206.5" r="2"/><circle cx="541.1" cy="156.9" r="2"/><circle cx="476.4" cy="217.1" r="2"/><circle cx="498.4" cy="207.5" r="2"/><circle cx="504.5" cy="191.9" r="2"/><circle cx="499.9" cy="200.1" r="2"/><circle cx="550.4" cy="134.7" r="2"/><circle cx="534.6" cy="158.6" r="2"/><circle cx="581.7" cy="133.8" r="2"/><circle cx="546.9" cy="175.9" r="2"/><circle cx="503.5" cy="192.8" r="2"/><circle cx="506.6" cy="178.5" r="2"/><circle cx="486.0" cy="208.6" r="2"/><circle cx="498.2" cy="189.6" r="2"/><circle cx="535.9" cy="168.3" r="2"/><circle cx="550.5" cy="163.7" r="2"/><circle cx="503.7" cy="185.8" r="2"/><circle cx="508.6" cy="188.0" r="2"/><circle cx="560.2" cy="133.0" r="2"/><circle cx="609.3" cy="98.6" r="2"/><circle cx="481.6" cy="212.7" r="2"/><circle cx="479.8" cy="222.8" r="2"/><circle cx="554.0" cy="137.6" r="2"/><circle cx="524.2" cy="180.4" r="2"/><circle cx="516.9" cy="187.6" r="2"/><circle cx="539.1" cy="166.3" r="2"/><circle cx="554.2" cy="132.6" r="2"/><circle cx="479.6" cy="216.1" r="2"/><circle cx="612.3" cy="92.4" r="2"/><circle cx="609.0" cy="92.9" r="2"/><circle cx="516.0" cy="193.0" r="2"/><circle cx="521.4" cy="161.5" r="2"/><circle cx="501.3" cy="215.1" r="2"/><circle cx="534.0" cy="173.9" r="2"/><circle cx="494.4" cy="195.8" r="2"/><circle cx="528.3" cy="158.0" r="2"/><circle cx="581.8" cy="121.4" r="2"/><circle cx="525.3" cy="165.0" r="2"/><circle cx="564.1" cy="128.5" r="2"/><circle cx="491.8" cy="194.6" r="2"/><circle cx="575.9" cy="124.8" r="2"/><circle cx="486.0" cy="193.0" r="2"/><circle cx="495.2" cy="199.5" r="2"/><circle cx="549.2" cy="134.3" r="2"/><circle cx="504.3" cy="204.5" r="2"/><circle cx="485.6" cy="200.8" r="2"/><circle cx="481.8" cy="227.4" r="2"/><circle cx="558.7" cy="157.1" r="2"/><circle cx="471.3" cy="218.8" r="2"/><circle cx="477.7" cy="226.7" r="2"/><circle cx="599.9" cy="97.6" r="2"/><circle cx="557.1" cy="154.1" r="2"/><circle cx="511.3" cy="169.2" r="2"/><circle cx="493.1" cy="203.2" r="2"/><circle cx="572.0" cy="140.6" r="2"/><circle cx="557.9" cy="140.1" r="2"/><circle cx="543.1" cy="146.6" r="2"/><circle cx="527.8" cy="178.5" r="2"/><circle cx="527.3" cy="165.5" r="2"/><circle cx="632.8" cy="73.7" r="2"/><circle cx="527.0" cy="162.0" r="2"/><circle cx="481.5" cy="214.3" r="2"/><circle cx="480.3" cy="221.3" r="2"/><circle cx="534.9" cy="157.5" r="2"/><circle cx="550.7" cy="164.6" r="2"/><circle cx="538.5" cy="192.1" r="2"/><circle cx="551.9" cy="154.5" r="2"/><circle cx="503.5" cy="204.7" r="2"/><circle cx="511.4" cy="167.5" r="2"/><circle cx="500.6" cy="194.6" r="2"/><circle cx="511.5" cy="196.1" r="2"/><circle cx="500.7" cy="208.2" r="2"/><circle cx="565.3" cy="129.5" r="2"/><circle cx="488.6" cy="216.1" r="2"/><circle cx="494.7" cy="207.7" r="2"/><circle cx="548.5" cy="151.6" r="2"/><circle cx="514.1" cy="182.3" r="2"/><circle cx="508.3" cy="187.6" r="2"/><circle cx="627.5" cy="88.1" r="2"/><circle cx="578.7" cy="108.3" r="2"/><circle cx="495.8" cy="182.5" r="2"/><circle cx="489.3" cy="224.0" r="2"/><circle cx="523.8" cy="146.8" r="2"/><circle cx="532.5" cy="164.3" r="2"/><circle cx="508.9" cy="175.0" r="2"/><circle cx="534.4" cy="171.6" r="2"/><circle cx="544.3" cy="151.1" r="2"/><circle cx="562.0" cy="135.5" r="2"/><circle cx="498.2" cy="196.9" r="2"/><circle cx="540.5" cy="149.2" r="2"/><circle cx="478.0" cy="210.6" r="2"/><circle cx="479.0" cy="226.9" r="2"/><circle cx="477.6" cy="218.9" r="2"/><circle cx="485.3" cy="202.7" r="2"/><circle cx="557.1" cy="135.2" r="2"/><circle cx="511.3" cy="189.2" r="2"/><circle cx="523.9" cy="176.8" r="2"/><circle cx="519.5" cy="179.5" r="2"/><circle cx="494.6" cy="213.1" r="2"/><circle cx="476.1" cy="229.8" r="2"/><circle cx="492.0" cy="187.4" r="2"/><circle cx="570.0" cy="134.3" r="2"/><circle cx="508.0" cy="187.8" r="2"/><circle cx="516.4" cy="188.7" r="2"/><circle cx="500.5" cy="182.3" r="2"/><circle cx="551.7" cy="129.0" r="2"/><circle cx="547.1" cy="154.1" r="2"/><circle cx="512.7" cy="179.0" r="2"/><circle cx="525.3" cy="180.4" r="2"/><circle cx="513.9" cy="164.7" r="2"/><circle cx="532.5" cy="155.9" r="2"/><circle cx="534.7" cy="172.4" r="2"/><circle cx="532.9" cy="152.1" r="2"/><circle cx="580.9" cy="116.0" r="2"/><circle cx="603.0" cy="94.6" r="2"/><circle cx="477.0" cy="214.4" r="2"/><circle cx="512.2" cy="191.9" r="2"/><circle cx="475.2" cy="225.5" r="2"/><circle cx="511.7" cy="178.8" r="2"/><circle cx="560.2" cy="140.0" r="2"/><circle cx="544.4" cy="164.4" r="2"/><circle cx="531.8" cy="145.0" r="2"/><circle cx="481.8" cy="215.9" r="2"/><circle cx="561.5" cy="144.1" r="2"/><circle cx="536.8" cy="169.0" r="2"/><circle cx="504.4" cy="185.1" r="2"/><circle cx="557.6" cy="131.7" r="2"/><circle cx="475.0" cy="217.6" r="2"/><circle cx="492.6" cy="194.3" r="2"/><circle cx="558.1" cy="157.2" r="2"/><circle cx="476.1" cy="223.0" r="2"/><circle cx="486.9" cy="213.8" r="2"/><circle cx="524.8" cy="173.0" r="2"/><circle cx="548.0" cy="145.9" r="2"/><circle cx="534.2" cy="185.6" r="2"/><circle cx="474.6" cy="187.6" r="2"/><circle cx="501.5" cy="204.2" r="2"/><circle cx="547.5" cy="147.9" r="2"/><circle cx="509.0" cy="179.3" r="2"/><circle cx="493.3" cy="193.9" r="2"/><circle cx="467.2" cy="225.1" r="2"/><circle cx="500.3" cy="226.9" r="2"/><circle cx="591.7" cy="121.2" r="2"/><circle cx="476.7" cy="210.7" r="2"/><circle cx="530.3" cy="177.7" r="2"/><circle cx="583.5" cy="128.7" r="2"/><circle cx="546.9" cy="177.1" r="2"/><circle cx="502.2" cy="181.8" r="2"/><circle cx="540.9" cy="152.7" r="2"/><circle cx="485.6" cy="219.7" r="2"/><circle cx="524.5" cy="175.0" r="2"/><circle cx="500.3" cy="197.5" r="2"/><circle cx="574.0" cy="138.5" r="2"/><circle cx="571.7" cy="131.8" r="2"/><circle cx="554.4" cy="142.7" r="2"/><circle cx="511.8" cy="179.9" r="2"/><circle cx="559.3" cy="127.5" r="2"/><circle cx="635.9" cy="76.9" r="2"/><circle cx="511.2" cy="191.2" r="2"/><circle cx="527.3" cy="166.9" r="2"/><circle cx="490.0" cy="213.0" r="2"/><circle cx="484.4" cy="224.9" r="2"/><circle cx="549.2" cy="138.4" r="2"/><circle cx="478.3" cy="221.5" r="2"/><circle cx="535.5" cy="162.1" r="2"/><circle cx="485.0" cy="204.4" r="2"/><circle cx="543.2" cy="167.7" r="2"/><circle cx="553.3" cy="139.8" r="2"/><circle cx="597.1" cy="100.3" r="2"/><circle cx="513.3" cy="185.4" r="2"/><circle cx="513.2" cy="180.3" r="2"/><circle cx="514.3" cy="191.4" r="2"/><circle cx="547.5" cy="175.2" r="2"/><circle cx="557.9" cy="145.2" r="2"/><circle cx="485.2" cy="220.6" r="2"/><circle cx="506.6" cy="181.6" r="2"/><circle cx="477.6" cy="215.4" r="2"/><circle cx="497.4" cy="205.0" r="2"/><circle cx="550.8" cy="148.4" r="2"/><circle cx="594.8" cy="93.0" r="2"/><circle cx="636.6" cy="59.0" r="2"/><circle cx="479.4" cy="212.6" r="2"/><circle cx="514.5" cy="178.7" r="2"/><circle cx="573.2" cy="130.6" r="2"/><circle cx="525.1" cy="174.6" r="2"/><circle cx="509.2" cy="182.1" r="2"/><circle cx="557.2" cy="144.2" r="2"/><circle cx="571.3" cy="126.3" r="2"/><circle cx="488.4" cy="219.8" r="2"/><circle cx="526.4" cy="189.6" r="2"/><circle cx="488.5" cy="225.8" r="2"/><circle cx="491.9" cy="209.3" r="2"/><circle cx="527.8" cy="156.7" r="2"/><circle cx="499.3" cy="185.3" r="2"/><circle cx="560.5" cy="150.3" r="2"/><circle cx="510.8" cy="203.2" r="2"/><circle cx="492.0" cy="196.3" r="2"/><circle cx="538.7" cy="155.6" r="2"/><circle cx="500.2" cy="211.2" r="2"/><circle cx="479.2" cy="205.6" r="2"/><circle cx="673.0" cy="37.3" r="2"/><circle cx="492.3" cy="190.4" r="2"/><circle cx="486.9" cy="205.9" r="2"/><circle cx="522.6" cy="166.3" r="2"/><circle cx="467.3" cy="224.6" r="2"/><circle cx="558.2" cy="152.0" r="2"/><circle cx="480.4" cy="218.1" r="2"/><circle cx="475.1" cy="227.8" r="2"/><circle cx="507.3" cy="129.9" r="2"/><circle cx="509.9" cy="140.4" r="2"/><circle cx="518.9" cy="138.3" r="2"/><circle cx="492.0" cy="142.5" r="2"/><circle cx="671.0" cy="129.9" r="2"/><circle cx="637.2" cy="137.2" r="2"/><circle cx="582.3" cy="174.0" r="2"/></g>
<line x1="467.7" y1="230.3" x2="485.1" y2="213.0" stroke="#f41414" stroke-width="2.2"/>
<line x1="568.5" y1="129.9" x2="672.3" y2="26.4" stroke="#f41414" stroke-width="2.2"/>
<path d="M458.5,0V243.8H682.1V0" fill="none" stroke="#1a1a1a" stroke-width="1.05"/>
<line x1="458.0" y1="0.5" x2="682.6" y2="0.5" stroke="#5a5a5a" stroke-width="1"/>
<line x1="466.1" y1="243.8" x2="466.1" y2="246.60000000000002" stroke="#222" stroke-width="0.7"/>
<text transform="translate(466.1,253.8) scale(0.9,1)" text-anchor="middle" class="dv dvt" font-size="6.9">0.00</text>
<line x1="492.5" y1="243.8" x2="492.5" y2="246.60000000000002" stroke="#222" stroke-width="0.7"/>
<text transform="translate(492.5,253.8) scale(0.9,1)" text-anchor="middle" class="dv dvt" font-size="6.9">0.25</text>
<line x1="518.9" y1="243.8" x2="518.9" y2="246.60000000000002" stroke="#222" stroke-width="0.7"/>
<text transform="translate(518.9,253.8) scale(0.9,1)" text-anchor="middle" class="dv dvt" font-size="6.9">0.50</text>
<line x1="545.3" y1="243.8" x2="545.3" y2="246.60000000000002" stroke="#222" stroke-width="0.7"/>
<text transform="translate(545.3,253.8) scale(0.9,1)" text-anchor="middle" class="dv dvt" font-size="6.9">0.75</text>
<line x1="571.7" y1="243.8" x2="571.7" y2="246.60000000000002" stroke="#222" stroke-width="0.7"/>
<text transform="translate(571.7,253.8) scale(0.9,1)" text-anchor="middle" class="dv dvt" font-size="6.9">1.00</text>
<line x1="598.1" y1="243.8" x2="598.1" y2="246.60000000000002" stroke="#222" stroke-width="0.7"/>
<text transform="translate(598.1,253.8) scale(0.9,1)" text-anchor="middle" class="dv dvt" font-size="6.9">1.25</text>
<line x1="624.5" y1="243.8" x2="624.5" y2="246.60000000000002" stroke="#222" stroke-width="0.7"/>
<text transform="translate(624.5,253.8) scale(0.9,1)" text-anchor="middle" class="dv dvt" font-size="6.9">1.50</text>
<line x1="650.9" y1="243.8" x2="650.9" y2="246.60000000000002" stroke="#222" stroke-width="0.7"/>
<text transform="translate(650.9,253.8) scale(0.9,1)" text-anchor="middle" class="dv dvt" font-size="6.9">1.75</text>
<line x1="677.3" y1="243.8" x2="677.3" y2="246.60000000000002" stroke="#222" stroke-width="0.7"/>
<text transform="translate(677.3,253.8) scale(0.9,1)" text-anchor="middle" class="dv dvt" font-size="6.9">2.00</text>
<line x1="455.7" y1="231.9" x2="458.5" y2="231.9" stroke="#222" stroke-width="0.7"/>
<text transform="translate(453.8,234.4) scale(0.9,1)" text-anchor="end" class="dv dvt" font-size="6.9">0.0</text>
<line x1="455.7" y1="179.3" x2="458.5" y2="179.3" stroke="#222" stroke-width="0.7"/>
<text transform="translate(453.8,181.8) scale(0.9,1)" text-anchor="end" class="dv dvt" font-size="6.9">0.5</text>
<line x1="455.7" y1="126.7" x2="458.5" y2="126.7" stroke="#222" stroke-width="0.7"/>
<text transform="translate(453.8,129.2) scale(0.9,1)" text-anchor="end" class="dv dvt" font-size="6.9">1.0</text>
<line x1="455.7" y1="74.1" x2="458.5" y2="74.1" stroke="#222" stroke-width="0.7"/>
<text transform="translate(453.8,76.6) scale(0.9,1)" text-anchor="end" class="dv dvt" font-size="6.9">1.5</text>
<line x1="455.7" y1="21.5" x2="458.5" y2="21.5" stroke="#222" stroke-width="0.7"/>
<text transform="translate(453.8,24.0) scale(0.9,1)" text-anchor="end" class="dv dvt" font-size="6.9">2.0</text>
<text x="570.4" y="263.1" text-anchor="middle" class="dv" font-weight="bold" font-size="7.76">Experimental CC (% wt. of concrete)</text>
<text transform="translate(439.1,122.1) rotate(-90)" text-anchor="middle" class="dv" font-weight="bold" font-size="7.74">SVR_GWO Predicted CC (% wt. of concrete)</text>
<rect x="462.6" y="5.2" width="99.6" height="30.2" rx="2" fill="#888" fill-opacity="0.6"/>
<rect x="461.4" y="4" width="99.6" height="30.2" rx="2" fill="#fff" stroke="#ccc" stroke-width="0.7"/>
<circle cx="470.6" cy="8.8" r="2.2" fill="#4682b4"/>
<line x1="463.8" y1="18.1" x2="477.5" y2="18.1" stroke="#f01010" stroke-width="1.6"/>
<line x1="463.8" y1="27.6" x2="477.5" y2="27.6" stroke="#4682b4" stroke-opacity="0.75" stroke-width="1.3"/>
<text transform="translate(482.6,11.2) scale(0.93,1)" class="dv dvt" font-size="6.85">Predicted Values</text>
<text transform="translate(482.6,20.6) scale(0.93,1)" class="dv dvt" font-size="6.85">Perfect Prediction</text>
<text transform="translate(482.6,30.1) scale(0.93,1)" class="dv dvt" font-size="6.85">95% Prediction Interval</text></svg>
</body></html>
